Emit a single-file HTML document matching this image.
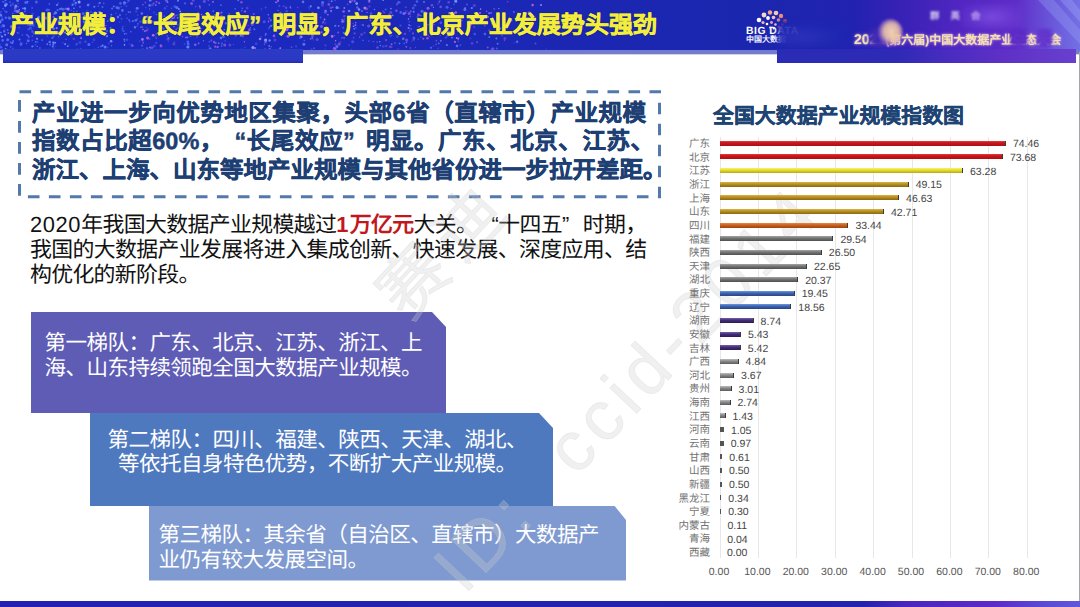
<!DOCTYPE html>
<html lang="zh-CN">
<head>
<meta charset="utf-8">
<title>产业规模</title>
<style>
html,body{margin:0;padding:0;}
body{text-rendering:geometricPrecision;width:1080px;height:607px;overflow:hidden;background:#fff;font-family:"Liberation Sans",sans-serif;position:relative;}
.abs{position:absolute;}
#band{left:0;top:0;width:1080px;height:50px;background:linear-gradient(90deg,#1a2ac2 0%,#1b29bd 30%,#1b27b2 55%,#1b26ae 70%,#2222b0 79%,#3a22b6 84%,#5226c2 89%,#5e2cc8 94%,#6a58da 97.5%,#7470e4 100%);}
#bandedge{left:0;top:50px;width:1080px;height:5px;background:linear-gradient(180deg,#6f7ad8 0%,#757dc8 70%,#ffffff 100%);}
#lblock{left:3px;top:49px;width:300px;height:13.5px;background:linear-gradient(180deg,#2a3cc2 0%,#2b38c6 80%,#2228b0 100%);}
#rblock{left:777px;top:49px;width:299px;height:13.5px;background:linear-gradient(90deg,#2a2cb6 0%,#2e2ab6 40%,#4a2cc0 58%,#5e30c6 75%,#6840ce 100%);}
#botbar{left:0;top:601px;width:1080px;height:6px;background:linear-gradient(90deg,#2420b4 0%,#2622b0 80%,#4a26c0 84%,#5c2aca 92%,#5a4cd8 97%,#5e58dc 100%);}
#redge{left:1078.5px;top:52px;width:1.5px;height:549px;background:#a4a4ac;}
#title{left:10px;top:9px;height:34px;line-height:34px;font-size:24px;font-weight:bold;color:#f3ee3a;-webkit-text-stroke:0.5px #f3ee3a;text-shadow:0 0 2px rgba(20,20,80,0.7);white-space:nowrap;letter-spacing:0;width:647px;text-align:justify;text-align-last:justify;}
#dash{left:19px;top:90px;width:640px;height:106px;box-sizing:border-box;}
.dl{left:32px;width:613px;height:28px;line-height:28px;font-size:23.5px;font-weight:bold;color:#1d3f73;-webkit-text-stroke:0.45px #1d3f73;white-space:nowrap;text-align:justify;text-align-last:justify;}
.pt{left:30px;height:23px;line-height:23px;font-size:21.9px;letter-spacing:-0.7px;color:#111;white-space:nowrap;text-align:justify;text-align-last:justify;}
.pt b{color:#c0181c;}
.tier{color:#fff;font-size:21.5px;letter-spacing:-0.6px;line-height:24.5px;height:24.5px;white-space:nowrap;text-align:justify;text-align-last:justify;}
.ql,.qr{display:inline-block;width:0.95em;}
.ql{text-align:right;text-align-last:right;}
.qr{text-align:left;text-align-last:left;}
.gl{position:absolute;top:137px;width:1px;height:421px;background:#e7e7e7;}
.ax{position:absolute;top:565px;margin-left:-1px;width:50px;text-align:center;font-size:10.5px;line-height:14px;color:#555;}
.pl{position:absolute;left:640px;width:70px;text-align:right;font-size:10.5px;line-height:14px;color:#727272;white-space:nowrap;}
.vl{position:absolute;font-size:10.5px;line-height:14px;color:#444;white-space:nowrap;}
.bar{position:absolute;left:720.0px;height:5px;border-right:1.5px solid #3a3a3a;box-sizing:border-box;}
.red{background:linear-gradient(180deg,#e24040 0%,#c8181c 35%,#ae0e12 100%);}
.yel{background:linear-gradient(180deg,#f6f268 0%,#e8e030 40%,#b4aa16 100%);}
.gold{background:linear-gradient(180deg,#dab444 0%,#b68e24 45%,#8a6812 100%);}
.org{background:linear-gradient(180deg,#e48848 0%,#c8601e 45%,#9c4410 100%);}
.gry{background:linear-gradient(180deg,#a4a4a4 0%,#747474 45%,#4e4e4e 100%);}
.blu{background:linear-gradient(180deg,#6e98e4 0%,#3c62ae 45%,#284684 100%);}
.pur{background:linear-gradient(180deg,#7460a8 0%,#432c76 45%,#2c1c54 100%);}
.lgr{background:linear-gradient(180deg,#bcbcbc 0%,#888888 45%,#5c5c5c 100%);}
.dk{background:#555;border-right:none;}
#ctitle{left:713px;top:103px;height:28px;line-height:28px;font-size:20.9px;font-weight:bold;color:#1e4474;-webkit-text-stroke:0.35px #1e4474;white-space:nowrap;width:251px;text-align:justify;text-align-last:justify;}
.wm{position:absolute;color:rgba(205,205,205,0.30);white-space:nowrap;transform-origin:0 50%;transform:rotate(-46.6deg);font-size:70px;letter-spacing:6.5px;word-spacing:28px;line-height:70px;height:70px;-webkit-text-stroke:0.8px rgba(205,205,205,0.28);}
</style>
</head>
<body>
<div id="band" class="abs"></div>
<div id="bandedge" class="abs"></div>
<svg class="abs" style="left:0;top:0" width="640" height="50" viewBox="0 0 640 50"><circle cx="136.8" cy="8.4" r="1.3" fill="#9a78ff" opacity="0.45"/><circle cx="159.2" cy="3.2" r="1.1" fill="#8a5cf0" opacity="0.85"/><circle cx="188.3" cy="13.5" r="1.1" fill="#9a78ff" opacity="0.45"/><circle cx="17.3" cy="32.8" r="0.7" fill="#4a6cff" opacity="1.00"/><circle cx="38.6" cy="17.3" r="1.5" fill="#4a6cff" opacity="1.00"/><circle cx="278.1" cy="10.5" r="0.7" fill="#8a5cf0" opacity="1.00"/><circle cx="16.5" cy="11.5" r="1.3" fill="#3f5cf0" opacity="0.85"/><circle cx="286.8" cy="25.4" r="0.9" fill="#a860e8" opacity="0.60"/><circle cx="24.5" cy="16.8" r="1.0" fill="#86a0ff" opacity="0.85"/><circle cx="118.1" cy="54.9" r="0.7" fill="#5f80ff" opacity="0.35"/><circle cx="53.1" cy="27.4" r="0.7" fill="#4a6cff" opacity="1.00"/><circle cx="279.2" cy="49.0" r="0.9" fill="#7a50e8" opacity="0.50"/><circle cx="233.5" cy="44.6" r="0.7" fill="#3f5cf0" opacity="0.85"/><circle cx="356.7" cy="3.6" r="1.3" fill="#86a0ff" opacity="1.00"/><circle cx="170.3" cy="37.4" r="0.7" fill="#3f5cf0" opacity="0.60"/><circle cx="302.5" cy="27.6" r="0.8" fill="#5f80ff" opacity="0.60"/><circle cx="177.0" cy="51.3" r="1.0" fill="#c070e0" opacity="0.42"/><circle cx="264.9" cy="49.5" r="1.5" fill="#9a78ff" opacity="0.35"/><circle cx="362.7" cy="55.2" r="1.3" fill="#5f80ff" opacity="0.30"/><circle cx="24.9" cy="8.5" r="1.3" fill="#7090ff" opacity="1.00"/><circle cx="66.7" cy="15.8" r="0.8" fill="#3f5cf0" opacity="1.00"/><circle cx="275.1" cy="53.4" r="1.3" fill="#5a78f8" opacity="0.23"/><circle cx="210.2" cy="48.8" r="1.5" fill="#5a78f8" opacity="0.85"/><circle cx="177.1" cy="22.1" r="1.0" fill="#4a6cff" opacity="0.60"/><circle cx="19.2" cy="11.7" r="0.8" fill="#9a78ff" opacity="0.45"/><circle cx="32.4" cy="31.7" r="1.1" fill="#7a50e8" opacity="1.00"/><circle cx="5.7" cy="49.0" r="1.1" fill="#86a0ff" opacity="0.70"/><circle cx="37.6" cy="27.3" r="1.0" fill="#3f5cf0" opacity="0.45"/><circle cx="49.7" cy="42.0" r="1.3" fill="#86a0ff" opacity="0.60"/><circle cx="245.1" cy="11.5" r="1.1" fill="#b458d8" opacity="1.00"/><circle cx="322.4" cy="5.1" r="1.5" fill="#7a50e8" opacity="0.60"/><circle cx="153.8" cy="12.5" r="1.1" fill="#3f5cf0" opacity="0.60"/><circle cx="303.9" cy="44.2" r="1.5" fill="#5f80ff" opacity="0.85"/><circle cx="384.3" cy="12.7" r="1.1" fill="#b458d8" opacity="0.45"/><circle cx="71.9" cy="33.9" r="0.9" fill="#86a0ff" opacity="0.70"/><circle cx="87.7" cy="11.0" r="0.8" fill="#5a78f8" opacity="0.45"/><circle cx="223.4" cy="36.6" r="1.5" fill="#86a0ff" opacity="0.45"/><circle cx="497.6" cy="43.8" r="1.0" fill="#7090ff" opacity="0.70"/><circle cx="26.4" cy="53.0" r="1.3" fill="#7090ff" opacity="0.23"/><circle cx="374.5" cy="9.5" r="0.8" fill="#9a78ff" opacity="0.85"/><circle cx="428.0" cy="8.2" r="1.5" fill="#c070e0" opacity="0.70"/><circle cx="54.9" cy="30.7" r="0.7" fill="#b458d8" opacity="0.45"/><circle cx="251.2" cy="52.3" r="1.0" fill="#5f80ff" opacity="0.30"/><circle cx="6.4" cy="11.9" r="1.1" fill="#5a78f8" opacity="0.70"/><circle cx="103.7" cy="23.5" r="0.8" fill="#b458d8" opacity="0.70"/><circle cx="489.3" cy="37.1" r="1.1" fill="#9a78ff" opacity="0.60"/><circle cx="254.3" cy="29.3" r="0.7" fill="#5f80ff" opacity="1.00"/><circle cx="0.6" cy="44.8" r="0.8" fill="#5a78f8" opacity="0.45"/><circle cx="269.2" cy="18.3" r="1.1" fill="#c070e0" opacity="0.45"/><circle cx="10.7" cy="5.5" r="1.0" fill="#4a6cff" opacity="0.85"/><circle cx="137.7" cy="54.5" r="1.1" fill="#86a0ff" opacity="0.35"/><circle cx="207.7" cy="29.9" r="1.0" fill="#a860e8" opacity="1.00"/><circle cx="271.0" cy="52.8" r="1.5" fill="#c070e0" opacity="0.23"/><circle cx="173.9" cy="17.7" r="1.3" fill="#8a5cf0" opacity="0.60"/><circle cx="339.1" cy="43.9" r="1.5" fill="#b458d8" opacity="0.70"/><circle cx="49.2" cy="49.4" r="1.0" fill="#4a6cff" opacity="0.42"/><circle cx="480.6" cy="9.1" r="0.8" fill="#c070e0" opacity="1.00"/><circle cx="180.3" cy="23.6" r="0.9" fill="#b458d8" opacity="0.70"/><circle cx="4.1" cy="31.0" r="1.0" fill="#7090ff" opacity="0.70"/><circle cx="245.8" cy="16.5" r="0.7" fill="#a860e8" opacity="0.45"/><circle cx="25.3" cy="15.2" r="1.5" fill="#5f80ff" opacity="0.85"/><circle cx="456.8" cy="37.9" r="1.0" fill="#9a78ff" opacity="1.00"/><circle cx="232.3" cy="18.3" r="0.9" fill="#b458d8" opacity="0.60"/><circle cx="192.3" cy="4.1" r="0.7" fill="#3f5cf0" opacity="0.45"/><circle cx="300.8" cy="12.5" r="0.9" fill="#7090ff" opacity="0.45"/><circle cx="144.9" cy="31.0" r="0.9" fill="#4a6cff" opacity="1.00"/><circle cx="364.7" cy="52.5" r="0.8" fill="#a860e8" opacity="0.30"/><circle cx="77.7" cy="25.0" r="1.3" fill="#3f5cf0" opacity="0.45"/><circle cx="238.8" cy="54.8" r="1.1" fill="#c070e0" opacity="0.23"/><circle cx="332.1" cy="36.4" r="1.3" fill="#c070e0" opacity="1.00"/><circle cx="128.4" cy="12.1" r="0.8" fill="#86a0ff" opacity="0.60"/><circle cx="180.8" cy="19.5" r="0.7" fill="#4a6cff" opacity="0.45"/><circle cx="311.5" cy="49.3" r="1.0" fill="#8a5cf0" opacity="0.42"/><circle cx="95.2" cy="16.4" r="1.0" fill="#3f5cf0" opacity="0.85"/><circle cx="0.5" cy="20.4" r="0.9" fill="#5a78f8" opacity="0.70"/><circle cx="96.3" cy="54.1" r="0.9" fill="#5f80ff" opacity="0.23"/><circle cx="142.9" cy="4.7" r="0.9" fill="#a860e8" opacity="0.60"/><circle cx="238.2" cy="0.3" r="0.9" fill="#5f80ff" opacity="0.85"/><circle cx="287.6" cy="22.1" r="0.9" fill="#a860e8" opacity="0.45"/><circle cx="286.9" cy="29.6" r="1.5" fill="#b458d8" opacity="1.00"/><circle cx="172.3" cy="18.3" r="1.0" fill="#b458d8" opacity="1.00"/><circle cx="322.6" cy="2.5" r="1.5" fill="#5a78f8" opacity="0.85"/><circle cx="380.4" cy="45.5" r="0.8" fill="#5a78f8" opacity="1.00"/><circle cx="446.9" cy="45.1" r="1.1" fill="#86a0ff" opacity="0.60"/><circle cx="25.7" cy="2.3" r="1.3" fill="#4a6cff" opacity="0.85"/><circle cx="447.5" cy="31.3" r="1.3" fill="#a860e8" opacity="0.85"/><circle cx="105.9" cy="25.6" r="0.7" fill="#5a78f8" opacity="1.00"/><circle cx="28.4" cy="29.5" r="1.3" fill="#3f5cf0" opacity="0.45"/><circle cx="454.5" cy="13.1" r="0.8" fill="#7090ff" opacity="0.85"/><circle cx="454.0" cy="4.3" r="0.9" fill="#5a78f8" opacity="0.60"/><circle cx="22.9" cy="8.3" r="0.9" fill="#86a0ff" opacity="0.70"/><circle cx="308.8" cy="7.5" r="1.0" fill="#7a50e8" opacity="0.45"/><circle cx="353.6" cy="37.8" r="0.9" fill="#3f5cf0" opacity="0.85"/><circle cx="215.6" cy="43.0" r="1.1" fill="#8a5cf0" opacity="0.85"/><circle cx="3.6" cy="25.7" r="1.5" fill="#7090ff" opacity="0.70"/><circle cx="170.8" cy="51.3" r="0.8" fill="#8a5cf0" opacity="0.30"/><circle cx="389.2" cy="14.7" r="0.9" fill="#b458d8" opacity="1.00"/><circle cx="113.8" cy="6.3" r="0.9" fill="#7090ff" opacity="0.85"/><circle cx="5.5" cy="0.2" r="1.0" fill="#7090ff" opacity="0.70"/><circle cx="376.0" cy="23.3" r="1.0" fill="#7a50e8" opacity="0.45"/><circle cx="137.2" cy="18.9" r="1.0" fill="#5f80ff" opacity="0.45"/><circle cx="174.2" cy="55.9" r="1.1" fill="#c070e0" opacity="0.35"/><circle cx="334.4" cy="35.6" r="0.8" fill="#7a50e8" opacity="0.85"/><circle cx="241.9" cy="10.6" r="0.9" fill="#7090ff" opacity="0.45"/><circle cx="431.6" cy="35.3" r="1.1" fill="#b458d8" opacity="0.45"/><circle cx="13.1" cy="41.0" r="1.0" fill="#5f80ff" opacity="0.70"/><circle cx="227.0" cy="51.1" r="1.1" fill="#c070e0" opacity="0.42"/><circle cx="147.4" cy="16.7" r="1.3" fill="#86a0ff" opacity="0.70"/><circle cx="181.6" cy="13.4" r="1.0" fill="#c070e0" opacity="0.45"/><circle cx="59.9" cy="9.1" r="0.8" fill="#7090ff" opacity="1.00"/><circle cx="84.4" cy="50.8" r="1.5" fill="#5f80ff" opacity="0.50"/><circle cx="71.4" cy="5.1" r="0.9" fill="#3f5cf0" opacity="0.60"/><circle cx="160.7" cy="45.3" r="0.8" fill="#86a0ff" opacity="0.85"/><circle cx="168.6" cy="41.8" r="0.8" fill="#7a50e8" opacity="0.45"/><circle cx="234.4" cy="32.2" r="0.9" fill="#9a78ff" opacity="1.00"/><circle cx="314.1" cy="48.3" r="0.8" fill="#a860e8" opacity="0.85"/><circle cx="178.0" cy="25.0" r="0.9" fill="#4a6cff" opacity="0.60"/><circle cx="7.7" cy="39.7" r="1.5" fill="#5a78f8" opacity="0.85"/><circle cx="0.0" cy="21.9" r="1.5" fill="#7090ff" opacity="0.85"/><circle cx="98.2" cy="6.1" r="0.8" fill="#86a0ff" opacity="0.45"/><circle cx="400.5" cy="25.6" r="1.1" fill="#4a6cff" opacity="0.60"/><circle cx="90.4" cy="51.5" r="1.3" fill="#5f80ff" opacity="0.35"/><circle cx="252.2" cy="24.5" r="1.5" fill="#8a5cf0" opacity="0.70"/><circle cx="249.9" cy="32.6" r="1.0" fill="#9a78ff" opacity="0.45"/><circle cx="1.9" cy="16.9" r="1.0" fill="#3f5cf0" opacity="0.60"/><circle cx="221.0" cy="13.1" r="0.8" fill="#c070e0" opacity="0.70"/><circle cx="15.0" cy="10.9" r="1.3" fill="#4a6cff" opacity="0.70"/><circle cx="88.2" cy="23.8" r="0.9" fill="#4a6cff" opacity="0.70"/><circle cx="370.3" cy="20.3" r="1.0" fill="#7a50e8" opacity="1.00"/><circle cx="19.2" cy="27.8" r="0.8" fill="#5f80ff" opacity="0.60"/><circle cx="215.1" cy="14.8" r="0.9" fill="#9a78ff" opacity="0.85"/><circle cx="302.0" cy="50.2" r="1.0" fill="#b458d8" opacity="0.23"/><circle cx="81.0" cy="54.6" r="0.8" fill="#86a0ff" opacity="0.23"/><circle cx="67.5" cy="25.2" r="1.3" fill="#86a0ff" opacity="0.45"/><circle cx="68.2" cy="52.4" r="1.3" fill="#3f5cf0" opacity="0.42"/><circle cx="449.8" cy="55.2" r="0.7" fill="#7a50e8" opacity="0.23"/><circle cx="151.5" cy="53.5" r="0.7" fill="#a860e8" opacity="0.42"/><circle cx="154.3" cy="46.0" r="1.5" fill="#4a6cff" opacity="0.45"/><circle cx="361.9" cy="11.0" r="1.1" fill="#5f80ff" opacity="0.70"/><circle cx="158.5" cy="50.2" r="0.7" fill="#5f80ff" opacity="0.42"/><circle cx="10.2" cy="2.0" r="0.7" fill="#4a6cff" opacity="0.70"/><circle cx="72.5" cy="3.5" r="1.1" fill="#3f5cf0" opacity="0.70"/><circle cx="369.2" cy="17.7" r="0.9" fill="#b458d8" opacity="1.00"/><circle cx="502.1" cy="35.5" r="0.7" fill="#4a6cff" opacity="0.85"/><circle cx="368.6" cy="26.1" r="1.5" fill="#7a50e8" opacity="0.85"/><circle cx="433.5" cy="7.4" r="0.7" fill="#86a0ff" opacity="0.70"/><circle cx="438.8" cy="43.3" r="0.9" fill="#7090ff" opacity="0.70"/><circle cx="413.0" cy="33.4" r="1.1" fill="#a860e8" opacity="0.60"/><circle cx="182.5" cy="36.4" r="1.0" fill="#7a50e8" opacity="0.60"/><circle cx="546.2" cy="49.5" r="0.9" fill="#5f80ff" opacity="0.23"/><circle cx="189.9" cy="55.4" r="1.0" fill="#a860e8" opacity="0.42"/><circle cx="212.7" cy="49.9" r="0.8" fill="#86a0ff" opacity="0.23"/><circle cx="410.3" cy="16.5" r="0.9" fill="#7a50e8" opacity="0.70"/><circle cx="383.1" cy="11.2" r="0.8" fill="#a860e8" opacity="0.60"/><circle cx="114.8" cy="50.8" r="0.8" fill="#7090ff" opacity="0.35"/><circle cx="429.3" cy="36.6" r="0.7" fill="#c070e0" opacity="0.60"/><circle cx="121.1" cy="6.7" r="0.8" fill="#5a78f8" opacity="0.60"/><circle cx="511.6" cy="20.8" r="1.0" fill="#86a0ff" opacity="0.45"/><circle cx="33.8" cy="33.4" r="1.1" fill="#4a6cff" opacity="0.70"/><circle cx="145.4" cy="2.5" r="0.9" fill="#b458d8" opacity="0.60"/><circle cx="433.5" cy="45.9" r="0.9" fill="#7a50e8" opacity="0.45"/><circle cx="76.5" cy="44.5" r="1.1" fill="#7090ff" opacity="0.45"/><circle cx="420.9" cy="37.2" r="0.8" fill="#4a6cff" opacity="0.60"/><circle cx="176.9" cy="15.2" r="0.9" fill="#7090ff" opacity="0.45"/><circle cx="130.8" cy="31.7" r="0.9" fill="#4a6cff" opacity="0.70"/><circle cx="323.4" cy="21.9" r="1.0" fill="#8a5cf0" opacity="0.85"/><circle cx="492.0" cy="23.7" r="1.0" fill="#7a50e8" opacity="0.85"/><circle cx="405.9" cy="7.3" r="0.7" fill="#b458d8" opacity="0.85"/><circle cx="27.2" cy="34.8" r="0.9" fill="#5f80ff" opacity="0.60"/><circle cx="149.6" cy="9.1" r="0.8" fill="#4a6cff" opacity="0.85"/><circle cx="229.9" cy="45.1" r="1.5" fill="#a860e8" opacity="0.45"/><circle cx="508.8" cy="21.7" r="1.1" fill="#5f80ff" opacity="0.60"/><circle cx="308.7" cy="34.4" r="0.8" fill="#5f80ff" opacity="1.00"/><circle cx="83.5" cy="22.4" r="1.1" fill="#3f5cf0" opacity="0.45"/><circle cx="52.0" cy="54.4" r="1.5" fill="#4a6cff" opacity="0.50"/><circle cx="452.0" cy="37.6" r="0.9" fill="#9a78ff" opacity="0.85"/><circle cx="265.3" cy="35.1" r="0.9" fill="#3f5cf0" opacity="1.00"/><circle cx="98.6" cy="21.8" r="0.9" fill="#7090ff" opacity="0.60"/><circle cx="5.1" cy="34.7" r="1.0" fill="#7090ff" opacity="1.00"/><circle cx="410.5" cy="25.7" r="0.8" fill="#7090ff" opacity="0.45"/><circle cx="19.1" cy="20.1" r="0.9" fill="#c070e0" opacity="1.00"/><circle cx="241.4" cy="2.3" r="1.3" fill="#b458d8" opacity="0.70"/><circle cx="408.9" cy="28.6" r="0.7" fill="#7090ff" opacity="0.60"/><circle cx="5.8" cy="3.7" r="1.1" fill="#4a6cff" opacity="0.60"/><circle cx="44.4" cy="49.6" r="0.9" fill="#5f80ff" opacity="0.30"/><circle cx="18.6" cy="19.7" r="1.5" fill="#3f5cf0" opacity="1.00"/><circle cx="111.5" cy="45.7" r="0.8" fill="#7090ff" opacity="0.60"/><circle cx="290.7" cy="34.5" r="0.8" fill="#8a5cf0" opacity="0.60"/><circle cx="66.6" cy="9.0" r="0.9" fill="#7090ff" opacity="0.60"/><circle cx="418.5" cy="14.8" r="1.5" fill="#b458d8" opacity="0.70"/><circle cx="351.4" cy="50.2" r="0.9" fill="#86a0ff" opacity="0.42"/><circle cx="383.0" cy="20.8" r="1.0" fill="#5a78f8" opacity="0.60"/><circle cx="156.3" cy="42.8" r="1.0" fill="#9a78ff" opacity="0.45"/><circle cx="122.5" cy="28.9" r="0.9" fill="#5a78f8" opacity="0.70"/><circle cx="379.8" cy="41.8" r="0.8" fill="#9a78ff" opacity="0.85"/><circle cx="188.0" cy="20.4" r="0.7" fill="#a860e8" opacity="1.00"/><circle cx="328.8" cy="1.2" r="0.7" fill="#7a50e8" opacity="0.45"/><circle cx="249.1" cy="29.9" r="1.0" fill="#9a78ff" opacity="0.60"/><circle cx="76.9" cy="34.9" r="1.0" fill="#4a6cff" opacity="0.60"/><circle cx="363.3" cy="25.2" r="0.7" fill="#86a0ff" opacity="0.70"/><circle cx="179.2" cy="14.8" r="0.7" fill="#9a78ff" opacity="0.70"/><circle cx="292.5" cy="32.4" r="1.1" fill="#86a0ff" opacity="0.85"/><circle cx="98.3" cy="50.6" r="0.7" fill="#8a5cf0" opacity="0.42"/><circle cx="68.2" cy="8.9" r="1.5" fill="#9a78ff" opacity="1.00"/><circle cx="331.1" cy="11.0" r="1.0" fill="#9a78ff" opacity="1.00"/><circle cx="325.3" cy="23.3" r="1.1" fill="#7a50e8" opacity="0.45"/><circle cx="124.5" cy="2.7" r="1.3" fill="#86a0ff" opacity="1.00"/><circle cx="1.0" cy="47.3" r="1.3" fill="#4a6cff" opacity="0.85"/><circle cx="63.6" cy="55.8" r="0.9" fill="#4a6cff" opacity="0.23"/><circle cx="143.0" cy="42.0" r="1.3" fill="#3f5cf0" opacity="0.45"/><circle cx="107.0" cy="31.0" r="1.0" fill="#5a78f8" opacity="0.70"/><circle cx="122.1" cy="52.0" r="0.8" fill="#9a78ff" opacity="0.23"/><circle cx="61.0" cy="50.7" r="1.5" fill="#5f80ff" opacity="0.35"/><circle cx="71.1" cy="21.8" r="1.1" fill="#86a0ff" opacity="1.00"/><circle cx="217.6" cy="47.0" r="1.3" fill="#8a5cf0" opacity="0.85"/><circle cx="529.2" cy="13.1" r="1.5" fill="#9a78ff" opacity="1.00"/><circle cx="23.0" cy="51.0" r="0.8" fill="#8a5cf0" opacity="0.23"/><circle cx="309.3" cy="9.1" r="0.8" fill="#4a6cff" opacity="0.45"/><circle cx="47.3" cy="36.0" r="0.7" fill="#86a0ff" opacity="0.45"/><circle cx="18.7" cy="33.1" r="0.9" fill="#5a78f8" opacity="0.45"/><circle cx="477.1" cy="42.3" r="1.0" fill="#a860e8" opacity="0.60"/><circle cx="36.3" cy="1.9" r="1.5" fill="#86a0ff" opacity="0.45"/><circle cx="440.3" cy="35.4" r="0.7" fill="#b458d8" opacity="0.60"/><circle cx="121.5" cy="18.8" r="0.9" fill="#7a50e8" opacity="0.70"/><circle cx="12.7" cy="42.6" r="0.9" fill="#5a78f8" opacity="1.00"/><circle cx="221.5" cy="16.1" r="1.3" fill="#c070e0" opacity="0.45"/><circle cx="198.7" cy="43.3" r="0.9" fill="#8a5cf0" opacity="1.00"/><circle cx="275.0" cy="40.0" r="1.5" fill="#7a50e8" opacity="0.60"/><circle cx="198.4" cy="29.3" r="0.9" fill="#4a6cff" opacity="0.45"/><circle cx="149.6" cy="5.4" r="1.3" fill="#5f80ff" opacity="0.85"/><circle cx="291.1" cy="53.6" r="1.1" fill="#a860e8" opacity="0.35"/><circle cx="433.8" cy="52.5" r="0.8" fill="#b458d8" opacity="0.23"/><circle cx="229.8" cy="55.5" r="1.1" fill="#86a0ff" opacity="0.35"/><circle cx="153.8" cy="22.5" r="1.0" fill="#86a0ff" opacity="0.45"/><circle cx="190.5" cy="36.2" r="0.9" fill="#7a50e8" opacity="0.85"/><circle cx="480.0" cy="13.1" r="1.1" fill="#b458d8" opacity="1.00"/><circle cx="324.5" cy="19.5" r="0.9" fill="#c070e0" opacity="1.00"/><circle cx="385.6" cy="9.5" r="1.0" fill="#3f5cf0" opacity="1.00"/><circle cx="89.7" cy="18.7" r="1.3" fill="#5f80ff" opacity="1.00"/><circle cx="71.0" cy="16.9" r="1.3" fill="#5a78f8" opacity="0.60"/><circle cx="373.6" cy="54.6" r="1.3" fill="#9a78ff" opacity="0.35"/><circle cx="57.1" cy="18.4" r="0.8" fill="#86a0ff" opacity="0.45"/><circle cx="58.7" cy="36.8" r="0.8" fill="#5f80ff" opacity="0.70"/><circle cx="380.0" cy="24.4" r="0.8" fill="#8a5cf0" opacity="0.70"/><circle cx="77.9" cy="21.7" r="0.7" fill="#c070e0" opacity="0.60"/><circle cx="235.7" cy="35.4" r="1.0" fill="#7a50e8" opacity="1.00"/><circle cx="383.2" cy="0.3" r="0.8" fill="#7090ff" opacity="1.00"/><circle cx="288.0" cy="36.2" r="1.5" fill="#b458d8" opacity="1.00"/><circle cx="458.7" cy="38.1" r="1.0" fill="#7a50e8" opacity="0.45"/><circle cx="366.7" cy="8.8" r="1.5" fill="#c070e0" opacity="0.45"/><circle cx="309.1" cy="22.9" r="1.3" fill="#5f80ff" opacity="0.70"/><circle cx="409.3" cy="21.8" r="1.0" fill="#4a6cff" opacity="0.45"/><circle cx="99.6" cy="12.2" r="1.3" fill="#5f80ff" opacity="1.00"/><circle cx="149.8" cy="47.4" r="1.0" fill="#b458d8" opacity="0.85"/><circle cx="242.6" cy="35.8" r="1.5" fill="#7a50e8" opacity="0.85"/><circle cx="385.7" cy="25.6" r="1.3" fill="#9a78ff" opacity="0.45"/><circle cx="377.3" cy="34.4" r="1.3" fill="#7a50e8" opacity="0.85"/><circle cx="178.0" cy="0.7" r="1.0" fill="#86a0ff" opacity="0.70"/><circle cx="283.6" cy="6.1" r="0.9" fill="#5a78f8" opacity="0.60"/><circle cx="58.7" cy="52.0" r="0.7" fill="#86a0ff" opacity="0.30"/><circle cx="217.4" cy="31.5" r="0.8" fill="#5f80ff" opacity="0.70"/><circle cx="336.9" cy="46.5" r="1.5" fill="#7090ff" opacity="0.70"/><circle cx="397.3" cy="36.4" r="1.5" fill="#3f5cf0" opacity="0.60"/><circle cx="107.7" cy="21.1" r="0.9" fill="#86a0ff" opacity="0.60"/><circle cx="224.7" cy="45.1" r="1.5" fill="#a860e8" opacity="0.70"/><circle cx="134.9" cy="27.2" r="1.1" fill="#86a0ff" opacity="0.70"/><circle cx="53.5" cy="17.0" r="1.0" fill="#9a78ff" opacity="0.70"/><circle cx="413.2" cy="7.9" r="1.5" fill="#9a78ff" opacity="0.45"/><circle cx="331.4" cy="11.7" r="0.7" fill="#3f5cf0" opacity="1.00"/><circle cx="32.1" cy="8.0" r="0.8" fill="#7090ff" opacity="0.70"/><circle cx="413.7" cy="11.7" r="1.0" fill="#5f80ff" opacity="1.00"/><circle cx="484.9" cy="34.1" r="1.3" fill="#5a78f8" opacity="0.70"/><circle cx="73.7" cy="38.8" r="1.1" fill="#c070e0" opacity="0.45"/><circle cx="268.3" cy="14.8" r="0.8" fill="#7090ff" opacity="0.85"/><circle cx="269.6" cy="27.1" r="0.8" fill="#5f80ff" opacity="0.85"/><circle cx="58.7" cy="33.6" r="1.3" fill="#7a50e8" opacity="0.85"/><circle cx="355.9" cy="27.9" r="0.9" fill="#3f5cf0" opacity="0.85"/><circle cx="188.7" cy="53.8" r="0.7" fill="#7a50e8" opacity="0.23"/><circle cx="4.4" cy="2.6" r="1.3" fill="#3f5cf0" opacity="0.45"/><circle cx="241.7" cy="27.1" r="0.8" fill="#b458d8" opacity="0.85"/><circle cx="311.4" cy="19.0" r="1.5" fill="#3f5cf0" opacity="0.85"/><circle cx="409.5" cy="31.0" r="0.8" fill="#7a50e8" opacity="0.85"/><circle cx="99.8" cy="3.0" r="0.9" fill="#7090ff" opacity="0.85"/><circle cx="142.0" cy="55.1" r="1.5" fill="#a860e8" opacity="0.42"/><circle cx="418.4" cy="18.5" r="0.9" fill="#5f80ff" opacity="1.00"/><circle cx="541.0" cy="4.9" r="1.0" fill="#7090ff" opacity="1.00"/><circle cx="279.8" cy="22.3" r="0.7" fill="#a860e8" opacity="0.85"/><circle cx="301.1" cy="36.8" r="1.5" fill="#9a78ff" opacity="1.00"/><circle cx="164.9" cy="8.2" r="1.3" fill="#5a78f8" opacity="0.45"/><circle cx="80.8" cy="37.4" r="1.0" fill="#5f80ff" opacity="0.45"/><circle cx="335.4" cy="48.7" r="1.0" fill="#86a0ff" opacity="0.45"/><circle cx="161.0" cy="46.1" r="1.5" fill="#b458d8" opacity="0.70"/><circle cx="4.3" cy="31.7" r="1.1" fill="#4a6cff" opacity="0.85"/><circle cx="275.8" cy="2.2" r="0.7" fill="#7090ff" opacity="1.00"/><circle cx="355.8" cy="22.7" r="0.7" fill="#c070e0" opacity="1.00"/><circle cx="290.8" cy="52.5" r="0.8" fill="#c070e0" opacity="0.50"/><circle cx="32.3" cy="36.1" r="0.8" fill="#86a0ff" opacity="0.45"/><circle cx="193.3" cy="0.5" r="1.3" fill="#8a5cf0" opacity="0.60"/><circle cx="371.0" cy="13.6" r="1.3" fill="#4a6cff" opacity="0.70"/><circle cx="406.6" cy="40.0" r="1.5" fill="#8a5cf0" opacity="0.70"/><circle cx="313.5" cy="39.7" r="1.0" fill="#3f5cf0" opacity="0.45"/><circle cx="369.6" cy="0.6" r="0.7" fill="#86a0ff" opacity="1.00"/><circle cx="23.7" cy="17.4" r="1.3" fill="#7090ff" opacity="1.00"/><circle cx="16.6" cy="20.6" r="1.1" fill="#7090ff" opacity="0.60"/><circle cx="50.1" cy="44.7" r="0.9" fill="#5f80ff" opacity="0.85"/><circle cx="222.0" cy="43.6" r="1.0" fill="#5a78f8" opacity="0.70"/><circle cx="120.4" cy="3.4" r="1.3" fill="#5a78f8" opacity="0.70"/><circle cx="52.8" cy="46.6" r="1.1" fill="#5f80ff" opacity="0.85"/><circle cx="171.1" cy="21.1" r="1.5" fill="#7090ff" opacity="0.70"/><circle cx="351.2" cy="18.0" r="0.9" fill="#9a78ff" opacity="0.45"/><circle cx="118.4" cy="7.9" r="1.5" fill="#5f80ff" opacity="0.70"/><circle cx="408.6" cy="28.0" r="1.1" fill="#9a78ff" opacity="0.85"/><circle cx="422.0" cy="11.2" r="1.5" fill="#5f80ff" opacity="0.70"/><circle cx="300.0" cy="37.9" r="1.0" fill="#3f5cf0" opacity="1.00"/><circle cx="391.6" cy="44.3" r="1.0" fill="#9a78ff" opacity="0.70"/><circle cx="405.3" cy="13.0" r="1.1" fill="#7a50e8" opacity="1.00"/><circle cx="135.3" cy="28.3" r="0.8" fill="#5f80ff" opacity="0.45"/><circle cx="66.0" cy="39.3" r="0.9" fill="#3f5cf0" opacity="0.85"/><circle cx="410.3" cy="48.0" r="0.8" fill="#c070e0" opacity="0.70"/><circle cx="468.1" cy="20.8" r="0.7" fill="#9a78ff" opacity="0.45"/><circle cx="148.0" cy="29.1" r="0.7" fill="#a860e8" opacity="1.00"/><circle cx="227.4" cy="31.8" r="0.9" fill="#3f5cf0" opacity="0.85"/><circle cx="30.4" cy="25.0" r="1.1" fill="#5f80ff" opacity="0.70"/><circle cx="452.8" cy="19.0" r="1.0" fill="#8a5cf0" opacity="0.45"/><circle cx="269.7" cy="48.8" r="1.0" fill="#8a5cf0" opacity="1.00"/><circle cx="320.5" cy="51.6" r="1.3" fill="#3f5cf0" opacity="0.35"/><circle cx="274.0" cy="35.9" r="1.3" fill="#a860e8" opacity="0.85"/><circle cx="456.8" cy="20.8" r="1.3" fill="#8a5cf0" opacity="0.70"/><circle cx="6.4" cy="51.5" r="0.9" fill="#86a0ff" opacity="0.42"/><circle cx="15.2" cy="8.1" r="1.5" fill="#a860e8" opacity="0.70"/><circle cx="289.4" cy="24.7" r="1.3" fill="#7a50e8" opacity="0.70"/><circle cx="102.5" cy="7.0" r="1.0" fill="#7090ff" opacity="0.60"/><circle cx="428.7" cy="51.2" r="0.7" fill="#a860e8" opacity="0.23"/><circle cx="55.3" cy="46.6" r="0.7" fill="#3f5cf0" opacity="0.60"/><circle cx="409.4" cy="53.6" r="1.0" fill="#86a0ff" opacity="0.23"/><circle cx="207.7" cy="19.0" r="1.5" fill="#8a5cf0" opacity="0.70"/><circle cx="49.1" cy="12.4" r="0.7" fill="#7090ff" opacity="1.00"/><circle cx="188.4" cy="13.8" r="0.7" fill="#7a50e8" opacity="0.70"/><circle cx="426.4" cy="14.6" r="0.7" fill="#c070e0" opacity="0.45"/><circle cx="53.7" cy="28.8" r="1.3" fill="#86a0ff" opacity="0.60"/><circle cx="271.2" cy="46.8" r="0.7" fill="#a860e8" opacity="0.70"/><circle cx="196.2" cy="14.6" r="0.8" fill="#4a6cff" opacity="0.85"/><circle cx="118.9" cy="50.2" r="0.7" fill="#3f5cf0" opacity="0.30"/><circle cx="145.9" cy="7.8" r="0.7" fill="#5a78f8" opacity="0.70"/><circle cx="68.3" cy="24.4" r="1.0" fill="#5a78f8" opacity="0.60"/><circle cx="47.1" cy="10.1" r="1.5" fill="#5f80ff" opacity="0.60"/><circle cx="296.1" cy="46.4" r="1.1" fill="#3f5cf0" opacity="0.60"/><circle cx="77.7" cy="34.3" r="1.3" fill="#5f80ff" opacity="1.00"/><circle cx="128.5" cy="0.6" r="1.3" fill="#7090ff" opacity="0.45"/><circle cx="246.4" cy="19.5" r="0.9" fill="#7090ff" opacity="0.45"/><circle cx="3.0" cy="51.0" r="1.0" fill="#86a0ff" opacity="0.35"/><circle cx="98.2" cy="31.5" r="0.9" fill="#b458d8" opacity="0.70"/><circle cx="280.3" cy="48.1" r="0.9" fill="#c070e0" opacity="1.00"/><circle cx="20.6" cy="20.0" r="0.8" fill="#3f5cf0" opacity="0.85"/><circle cx="281.2" cy="50.3" r="0.9" fill="#86a0ff" opacity="0.42"/><circle cx="204.4" cy="1.4" r="1.5" fill="#8a5cf0" opacity="0.60"/><circle cx="32.5" cy="14.0" r="1.5" fill="#4a6cff" opacity="0.45"/><circle cx="448.5" cy="35.7" r="0.8" fill="#4a6cff" opacity="0.70"/><circle cx="40.8" cy="27.6" r="1.1" fill="#4a6cff" opacity="0.45"/><circle cx="40.2" cy="49.5" r="1.1" fill="#5f80ff" opacity="0.30"/><circle cx="338.7" cy="25.9" r="1.0" fill="#8a5cf0" opacity="0.85"/><circle cx="354.6" cy="33.4" r="1.1" fill="#c070e0" opacity="0.45"/><circle cx="408.5" cy="19.0" r="0.8" fill="#86a0ff" opacity="0.85"/><circle cx="452.4" cy="31.6" r="0.9" fill="#5a78f8" opacity="0.45"/><circle cx="137.4" cy="8.2" r="1.3" fill="#5f80ff" opacity="0.85"/><circle cx="335.1" cy="0.6" r="0.7" fill="#8a5cf0" opacity="0.70"/><circle cx="196.7" cy="28.3" r="0.7" fill="#c070e0" opacity="0.85"/><circle cx="408.2" cy="52.5" r="1.3" fill="#8a5cf0" opacity="0.23"/><circle cx="467.6" cy="34.8" r="1.1" fill="#9a78ff" opacity="0.45"/><circle cx="308.9" cy="14.0" r="1.1" fill="#a860e8" opacity="0.45"/><circle cx="117.9" cy="17.1" r="1.3" fill="#4a6cff" opacity="1.00"/><circle cx="531.5" cy="51.6" r="0.7" fill="#9a78ff" opacity="0.30"/><circle cx="200.7" cy="28.7" r="0.9" fill="#5a78f8" opacity="0.70"/><circle cx="111.1" cy="41.2" r="1.3" fill="#7090ff" opacity="1.00"/><circle cx="355.3" cy="12.4" r="1.0" fill="#b458d8" opacity="0.70"/><circle cx="212.7" cy="30.7" r="1.1" fill="#7a50e8" opacity="0.45"/><circle cx="95.2" cy="12.4" r="1.1" fill="#5a78f8" opacity="0.85"/><circle cx="2.2" cy="19.7" r="1.5" fill="#3f5cf0" opacity="1.00"/><circle cx="137.7" cy="15.1" r="0.8" fill="#4a6cff" opacity="0.60"/><circle cx="265.9" cy="33.9" r="0.9" fill="#8a5cf0" opacity="1.00"/><circle cx="171.4" cy="24.6" r="1.3" fill="#5a78f8" opacity="0.60"/><circle cx="187.5" cy="37.4" r="0.8" fill="#5a78f8" opacity="1.00"/><circle cx="457.0" cy="46.0" r="1.3" fill="#7090ff" opacity="0.70"/><circle cx="413.7" cy="39.7" r="1.3" fill="#8a5cf0" opacity="0.45"/><circle cx="184.0" cy="30.8" r="0.7" fill="#9a78ff" opacity="0.60"/><circle cx="188.2" cy="43.9" r="1.5" fill="#4a6cff" opacity="0.85"/><circle cx="458.2" cy="38.8" r="0.9" fill="#c070e0" opacity="1.00"/><circle cx="268.5" cy="21.5" r="0.9" fill="#b458d8" opacity="0.85"/><circle cx="167.4" cy="16.8" r="1.1" fill="#a860e8" opacity="0.85"/><circle cx="280.7" cy="32.6" r="0.7" fill="#3f5cf0" opacity="0.70"/><circle cx="137.9" cy="54.4" r="0.7" fill="#7a50e8" opacity="0.50"/><circle cx="488.1" cy="16.8" r="0.9" fill="#c070e0" opacity="1.00"/><circle cx="440.8" cy="40.7" r="1.0" fill="#9a78ff" opacity="0.70"/><circle cx="208.2" cy="0.6" r="0.7" fill="#8a5cf0" opacity="0.85"/><circle cx="164.0" cy="22.5" r="1.1" fill="#5f80ff" opacity="0.60"/><circle cx="311.0" cy="55.8" r="0.9" fill="#86a0ff" opacity="0.23"/><circle cx="61.5" cy="17.8" r="0.7" fill="#5a78f8" opacity="0.60"/><circle cx="35.7" cy="50.1" r="1.3" fill="#5a78f8" opacity="0.42"/><circle cx="315.0" cy="29.3" r="1.5" fill="#9a78ff" opacity="0.60"/><circle cx="185.0" cy="3.4" r="1.1" fill="#3f5cf0" opacity="1.00"/><circle cx="184.5" cy="44.1" r="0.9" fill="#5a78f8" opacity="0.45"/><circle cx="3.0" cy="1.7" r="0.8" fill="#5a78f8" opacity="1.00"/><circle cx="107.0" cy="36.2" r="1.1" fill="#5f80ff" opacity="1.00"/><circle cx="74.2" cy="33.7" r="0.8" fill="#5a78f8" opacity="0.45"/><circle cx="6.7" cy="4.3" r="1.1" fill="#7090ff" opacity="1.00"/><circle cx="195.3" cy="44.8" r="1.3" fill="#9a78ff" opacity="0.70"/><circle cx="49.6" cy="13.3" r="0.9" fill="#3f5cf0" opacity="0.45"/><circle cx="71.0" cy="34.9" r="0.7" fill="#c070e0" opacity="1.00"/><circle cx="400.0" cy="2.5" r="0.7" fill="#5f80ff" opacity="0.60"/><circle cx="11.3" cy="52.1" r="1.5" fill="#4a6cff" opacity="0.42"/><circle cx="126.2" cy="33.7" r="1.0" fill="#4a6cff" opacity="0.60"/><circle cx="344.1" cy="37.8" r="1.1" fill="#7a50e8" opacity="0.85"/><circle cx="474.1" cy="27.1" r="0.8" fill="#a860e8" opacity="0.70"/><circle cx="166.5" cy="0.4" r="0.9" fill="#7a50e8" opacity="0.45"/><circle cx="142.7" cy="48.8" r="0.9" fill="#8a5cf0" opacity="0.45"/><circle cx="190.6" cy="51.1" r="1.1" fill="#a860e8" opacity="0.42"/><circle cx="115.9" cy="13.3" r="0.7" fill="#4a6cff" opacity="0.70"/><circle cx="426.9" cy="13.5" r="0.8" fill="#7a50e8" opacity="1.00"/><circle cx="447.0" cy="7.2" r="1.5" fill="#5f80ff" opacity="0.60"/><circle cx="160.5" cy="12.1" r="1.0" fill="#9a78ff" opacity="0.60"/><circle cx="122.9" cy="26.7" r="0.8" fill="#7090ff" opacity="0.60"/><circle cx="200.9" cy="55.4" r="1.1" fill="#9a78ff" opacity="0.50"/><circle cx="80.8" cy="48.9" r="0.7" fill="#4a6cff" opacity="1.00"/><circle cx="458.3" cy="41.2" r="0.7" fill="#5a78f8" opacity="0.60"/><circle cx="129.9" cy="21.8" r="0.7" fill="#5f80ff" opacity="0.70"/><circle cx="69.5" cy="49.9" r="0.7" fill="#3f5cf0" opacity="0.50"/><circle cx="396.4" cy="10.8" r="1.3" fill="#a860e8" opacity="0.70"/><circle cx="42.1" cy="40.1" r="0.9" fill="#7090ff" opacity="0.60"/><circle cx="423.3" cy="38.7" r="1.0" fill="#b458d8" opacity="0.85"/><circle cx="98.2" cy="47.4" r="0.9" fill="#4a6cff" opacity="0.60"/><circle cx="119.9" cy="15.2" r="1.1" fill="#86a0ff" opacity="0.45"/><circle cx="180.7" cy="34.1" r="1.0" fill="#7a50e8" opacity="0.60"/><circle cx="167.5" cy="2.2" r="0.9" fill="#5f80ff" opacity="1.00"/><circle cx="450.0" cy="31.9" r="0.9" fill="#86a0ff" opacity="1.00"/><circle cx="150.2" cy="0.1" r="1.5" fill="#86a0ff" opacity="0.70"/><circle cx="491.6" cy="49.0" r="1.3" fill="#a860e8" opacity="0.23"/><circle cx="9.1" cy="17.8" r="1.5" fill="#86a0ff" opacity="0.45"/><circle cx="187.8" cy="41.7" r="1.3" fill="#5f80ff" opacity="0.70"/><circle cx="251.6" cy="19.5" r="1.0" fill="#7a50e8" opacity="1.00"/><circle cx="383.4" cy="46.5" r="1.3" fill="#5a78f8" opacity="0.45"/><circle cx="343.6" cy="11.5" r="1.3" fill="#a860e8" opacity="0.85"/><circle cx="398.6" cy="2.4" r="1.3" fill="#5a78f8" opacity="0.70"/><circle cx="63.2" cy="9.2" r="1.5" fill="#5a78f8" opacity="0.70"/><circle cx="98.8" cy="3.3" r="0.9" fill="#4a6cff" opacity="0.60"/><circle cx="318.4" cy="7.7" r="1.3" fill="#86a0ff" opacity="0.85"/><circle cx="93.0" cy="13.5" r="1.1" fill="#5f80ff" opacity="0.70"/><circle cx="357.3" cy="7.5" r="1.3" fill="#9a78ff" opacity="0.60"/><circle cx="142.0" cy="45.7" r="1.1" fill="#a860e8" opacity="0.60"/><circle cx="294.9" cy="25.8" r="1.5" fill="#a860e8" opacity="0.45"/><circle cx="352.3" cy="0.7" r="1.0" fill="#8a5cf0" opacity="0.70"/><circle cx="126.4" cy="6.2" r="0.9" fill="#4a6cff" opacity="0.60"/><circle cx="137.1" cy="26.2" r="0.9" fill="#5a78f8" opacity="0.45"/><circle cx="11.8" cy="26.2" r="1.5" fill="#86a0ff" opacity="0.70"/><circle cx="228.9" cy="24.3" r="0.8" fill="#3f5cf0" opacity="0.45"/><circle cx="155.8" cy="5.1" r="0.9" fill="#86a0ff" opacity="0.70"/><circle cx="328.8" cy="4.4" r="1.3" fill="#c070e0" opacity="0.60"/><circle cx="122.4" cy="10.4" r="1.3" fill="#86a0ff" opacity="0.60"/><circle cx="32.4" cy="40.3" r="0.9" fill="#3f5cf0" opacity="0.85"/><circle cx="67.7" cy="46.2" r="0.9" fill="#5f80ff" opacity="1.00"/><circle cx="15.8" cy="6.0" r="1.5" fill="#86a0ff" opacity="0.85"/><circle cx="235.2" cy="8.8" r="0.9" fill="#86a0ff" opacity="0.45"/><circle cx="48.8" cy="12.7" r="0.8" fill="#7090ff" opacity="0.45"/><circle cx="83.5" cy="20.9" r="0.7" fill="#5a78f8" opacity="0.85"/><circle cx="49.3" cy="4.0" r="0.7" fill="#7090ff" opacity="0.70"/><circle cx="17.6" cy="0.5" r="1.5" fill="#86a0ff" opacity="0.60"/><circle cx="166.4" cy="0.2" r="1.5" fill="#7a50e8" opacity="1.00"/><circle cx="72.8" cy="4.8" r="0.9" fill="#7090ff" opacity="1.00"/><circle cx="496.8" cy="48.5" r="1.1" fill="#4a6cff" opacity="0.70"/><circle cx="301.4" cy="16.6" r="1.1" fill="#7a50e8" opacity="0.85"/><circle cx="330.9" cy="7.7" r="1.5" fill="#b458d8" opacity="0.45"/><circle cx="455.8" cy="12.5" r="1.3" fill="#b458d8" opacity="1.00"/><circle cx="162.7" cy="32.5" r="1.0" fill="#a860e8" opacity="1.00"/><circle cx="201.5" cy="14.6" r="0.8" fill="#a860e8" opacity="1.00"/><circle cx="390.8" cy="12.4" r="1.5" fill="#8a5cf0" opacity="0.60"/><circle cx="253.7" cy="14.1" r="1.0" fill="#c070e0" opacity="0.60"/><circle cx="260.0" cy="39.0" r="1.3" fill="#9a78ff" opacity="1.00"/><circle cx="23.9" cy="22.8" r="0.7" fill="#5f80ff" opacity="1.00"/><circle cx="265.6" cy="40.0" r="1.5" fill="#86a0ff" opacity="1.00"/><circle cx="32.3" cy="46.5" r="1.0" fill="#5f80ff" opacity="1.00"/><circle cx="220.9" cy="5.2" r="0.9" fill="#4a6cff" opacity="0.85"/><circle cx="92.6" cy="20.9" r="0.7" fill="#5f80ff" opacity="0.85"/><circle cx="124.3" cy="39.6" r="1.0" fill="#4a6cff" opacity="1.00"/><circle cx="376.7" cy="19.9" r="0.9" fill="#3f5cf0" opacity="0.45"/><circle cx="440.7" cy="6.9" r="1.3" fill="#7a50e8" opacity="0.85"/><circle cx="11.1" cy="33.8" r="0.7" fill="#3f5cf0" opacity="1.00"/><circle cx="36.7" cy="51.8" r="1.3" fill="#3f5cf0" opacity="0.30"/><circle cx="354.7" cy="1.2" r="1.1" fill="#8a5cf0" opacity="0.85"/><circle cx="35.6" cy="44.8" r="0.8" fill="#3f5cf0" opacity="0.85"/><circle cx="447.8" cy="32.9" r="1.3" fill="#3f5cf0" opacity="0.85"/><circle cx="2.6" cy="19.2" r="0.8" fill="#7090ff" opacity="0.45"/><circle cx="424.0" cy="2.0" r="0.8" fill="#86a0ff" opacity="1.00"/><circle cx="174.0" cy="26.6" r="0.8" fill="#7090ff" opacity="0.85"/><circle cx="88.8" cy="53.6" r="1.1" fill="#7a50e8" opacity="0.50"/><circle cx="82.6" cy="50.1" r="1.1" fill="#5f80ff" opacity="0.30"/><circle cx="436.4" cy="40.7" r="1.0" fill="#7a50e8" opacity="0.70"/><circle cx="0.9" cy="32.4" r="0.9" fill="#5f80ff" opacity="0.85"/><circle cx="474.8" cy="34.1" r="1.3" fill="#3f5cf0" opacity="0.85"/><circle cx="110.7" cy="28.0" r="0.9" fill="#5a78f8" opacity="1.00"/><circle cx="286.1" cy="7.8" r="1.3" fill="#9a78ff" opacity="0.45"/><circle cx="472.1" cy="43.4" r="1.3" fill="#7a50e8" opacity="0.60"/><circle cx="472.4" cy="52.6" r="0.9" fill="#3f5cf0" opacity="0.35"/><circle cx="240.7" cy="35.6" r="0.9" fill="#86a0ff" opacity="0.85"/><circle cx="142.4" cy="39.4" r="1.3" fill="#c070e0" opacity="1.00"/><circle cx="160.1" cy="13.6" r="0.8" fill="#5f80ff" opacity="0.60"/><circle cx="77.4" cy="49.8" r="1.3" fill="#7090ff" opacity="0.42"/><circle cx="276.6" cy="16.9" r="0.8" fill="#a860e8" opacity="0.70"/><circle cx="371.3" cy="14.1" r="1.1" fill="#7a50e8" opacity="0.45"/><circle cx="65.1" cy="32.5" r="1.0" fill="#86a0ff" opacity="0.85"/><circle cx="372.2" cy="51.6" r="1.5" fill="#a860e8" opacity="0.35"/><circle cx="489.4" cy="30.6" r="1.3" fill="#b458d8" opacity="0.45"/><circle cx="83.6" cy="22.4" r="0.8" fill="#3f5cf0" opacity="1.00"/><circle cx="325.6" cy="11.0" r="1.3" fill="#a860e8" opacity="1.00"/><circle cx="12.8" cy="4.1" r="1.5" fill="#3f5cf0" opacity="0.60"/><circle cx="0.8" cy="15.2" r="1.3" fill="#86a0ff" opacity="0.70"/><circle cx="390.4" cy="36.3" r="1.0" fill="#3f5cf0" opacity="0.60"/><circle cx="15.8" cy="23.2" r="0.7" fill="#9a78ff" opacity="0.70"/><circle cx="407.8" cy="55.3" r="1.0" fill="#c070e0" opacity="0.23"/><circle cx="5.8" cy="17.7" r="1.3" fill="#4a6cff" opacity="0.85"/><circle cx="304.3" cy="40.6" r="0.9" fill="#8a5cf0" opacity="0.60"/><circle cx="79.8" cy="29.7" r="1.5" fill="#7a50e8" opacity="0.85"/><circle cx="147.6" cy="38.1" r="1.5" fill="#b458d8" opacity="1.00"/><circle cx="280.4" cy="12.9" r="1.1" fill="#b458d8" opacity="0.85"/><circle cx="399.5" cy="43.5" r="0.9" fill="#5a78f8" opacity="0.85"/><circle cx="270.9" cy="20.2" r="1.1" fill="#5f80ff" opacity="0.70"/><circle cx="1.6" cy="26.6" r="1.3" fill="#3f5cf0" opacity="0.60"/><circle cx="27.6" cy="1.6" r="0.8" fill="#5a78f8" opacity="1.00"/><circle cx="77.2" cy="43.5" r="0.9" fill="#3f5cf0" opacity="0.60"/><circle cx="492.8" cy="48.8" r="1.5" fill="#8a5cf0" opacity="0.70"/><circle cx="409.2" cy="13.6" r="1.5" fill="#b458d8" opacity="0.70"/><circle cx="417.0" cy="1.5" r="1.3" fill="#4a6cff" opacity="0.85"/><circle cx="342.1" cy="19.6" r="0.8" fill="#c070e0" opacity="0.85"/><circle cx="100.0" cy="14.7" r="1.0" fill="#3f5cf0" opacity="0.60"/><circle cx="138.0" cy="23.8" r="0.9" fill="#7090ff" opacity="0.60"/><circle cx="514.1" cy="43.1" r="0.8" fill="#3f5cf0" opacity="0.45"/><circle cx="140.9" cy="27.2" r="0.8" fill="#b458d8" opacity="1.00"/><circle cx="294.2" cy="25.4" r="1.1" fill="#a860e8" opacity="0.70"/><circle cx="12.0" cy="43.3" r="1.0" fill="#5f80ff" opacity="0.70"/><circle cx="349.1" cy="45.1" r="0.8" fill="#4a6cff" opacity="0.60"/><circle cx="498.8" cy="8.4" r="0.7" fill="#7090ff" opacity="0.85"/><circle cx="27.7" cy="19.0" r="1.3" fill="#3f5cf0" opacity="0.45"/><circle cx="286.7" cy="11.3" r="1.3" fill="#4a6cff" opacity="0.60"/><circle cx="238.3" cy="13.0" r="1.0" fill="#86a0ff" opacity="0.45"/><circle cx="12.7" cy="50.1" r="0.7" fill="#4a6cff" opacity="0.42"/><circle cx="86.3" cy="30.3" r="1.3" fill="#5a78f8" opacity="0.45"/><circle cx="253.2" cy="47.0" r="0.7" fill="#a860e8" opacity="0.60"/><circle cx="378.8" cy="15.3" r="0.8" fill="#7a50e8" opacity="0.45"/><circle cx="416.8" cy="53.3" r="0.9" fill="#b458d8" opacity="0.23"/><circle cx="328.8" cy="30.5" r="1.1" fill="#c070e0" opacity="0.70"/><circle cx="177.7" cy="17.8" r="1.0" fill="#a860e8" opacity="0.85"/><circle cx="398.0" cy="49.4" r="1.5" fill="#b458d8" opacity="0.23"/><circle cx="93.6" cy="28.1" r="0.9" fill="#86a0ff" opacity="0.85"/><circle cx="26.4" cy="34.8" r="0.7" fill="#4a6cff" opacity="0.85"/><circle cx="354.8" cy="18.2" r="1.3" fill="#b458d8" opacity="0.70"/><circle cx="209.6" cy="32.4" r="1.0" fill="#7090ff" opacity="1.00"/><circle cx="146.7" cy="30.6" r="1.0" fill="#b458d8" opacity="0.85"/><circle cx="153.6" cy="3.6" r="1.1" fill="#b458d8" opacity="0.70"/><circle cx="20.9" cy="44.6" r="1.3" fill="#5a78f8" opacity="0.70"/><circle cx="105.1" cy="47.1" r="1.5" fill="#5a78f8" opacity="1.00"/><circle cx="221.8" cy="12.4" r="0.8" fill="#9a78ff" opacity="0.70"/><circle cx="249.6" cy="29.5" r="1.5" fill="#b458d8" opacity="0.60"/><circle cx="53.3" cy="37.1" r="0.8" fill="#86a0ff" opacity="0.45"/><circle cx="135.8" cy="20.3" r="1.5" fill="#4a6cff" opacity="0.85"/><circle cx="54.0" cy="14.1" r="0.7" fill="#86a0ff" opacity="1.00"/><circle cx="248.1" cy="25.4" r="0.7" fill="#7a50e8" opacity="0.85"/><circle cx="355.4" cy="25.2" r="1.0" fill="#5f80ff" opacity="1.00"/><circle cx="52.2" cy="38.1" r="0.9" fill="#86a0ff" opacity="0.60"/><circle cx="309.8" cy="29.3" r="1.5" fill="#8a5cf0" opacity="1.00"/><circle cx="75.3" cy="32.0" r="0.7" fill="#3f5cf0" opacity="1.00"/><circle cx="111.3" cy="18.1" r="0.8" fill="#7090ff" opacity="0.45"/><circle cx="250.4" cy="27.6" r="0.7" fill="#c070e0" opacity="0.70"/><circle cx="306.8" cy="20.8" r="0.7" fill="#7090ff" opacity="0.70"/><circle cx="10.6" cy="42.2" r="1.0" fill="#5a78f8" opacity="0.70"/><circle cx="152.0" cy="21.6" r="1.1" fill="#9a78ff" opacity="0.60"/><circle cx="17.8" cy="11.4" r="1.5" fill="#c070e0" opacity="0.85"/><circle cx="174.4" cy="23.2" r="1.3" fill="#4a6cff" opacity="0.45"/><circle cx="291.3" cy="25.9" r="1.0" fill="#7090ff" opacity="0.85"/><circle cx="176.8" cy="7.6" r="1.5" fill="#86a0ff" opacity="0.60"/><circle cx="384.6" cy="22.5" r="0.7" fill="#3f5cf0" opacity="1.00"/><circle cx="140.1" cy="21.7" r="1.0" fill="#a860e8" opacity="0.45"/><circle cx="278.0" cy="0.9" r="1.0" fill="#a860e8" opacity="1.00"/><circle cx="208.9" cy="46.1" r="0.8" fill="#7090ff" opacity="0.45"/><circle cx="265.5" cy="41.9" r="1.5" fill="#c070e0" opacity="0.45"/><circle cx="471.8" cy="8.1" r="1.1" fill="#5f80ff" opacity="1.00"/><circle cx="111.4" cy="14.7" r="0.9" fill="#86a0ff" opacity="0.70"/><circle cx="268.7" cy="28.6" r="1.0" fill="#3f5cf0" opacity="0.70"/><circle cx="98.3" cy="21.3" r="1.0" fill="#3f5cf0" opacity="0.70"/><circle cx="75.8" cy="2.9" r="1.1" fill="#7090ff" opacity="0.85"/><circle cx="364.9" cy="7.9" r="1.5" fill="#c070e0" opacity="1.00"/><circle cx="335.6" cy="40.8" r="0.7" fill="#c070e0" opacity="1.00"/><circle cx="439.2" cy="2.0" r="1.0" fill="#b458d8" opacity="0.60"/><circle cx="425.3" cy="33.2" r="1.0" fill="#b458d8" opacity="0.85"/><circle cx="76.7" cy="11.4" r="0.8" fill="#86a0ff" opacity="0.45"/><circle cx="12.9" cy="48.3" r="0.7" fill="#7090ff" opacity="0.60"/><circle cx="2.7" cy="40.4" r="1.3" fill="#7090ff" opacity="0.60"/><circle cx="341.9" cy="37.8" r="0.9" fill="#5a78f8" opacity="0.60"/><circle cx="50.4" cy="51.4" r="0.8" fill="#7090ff" opacity="0.23"/><circle cx="75.7" cy="5.1" r="0.7" fill="#86a0ff" opacity="0.70"/><circle cx="362.5" cy="24.8" r="1.0" fill="#8a5cf0" opacity="0.60"/><circle cx="10.6" cy="46.8" r="0.9" fill="#5a78f8" opacity="0.70"/><circle cx="363.0" cy="40.3" r="0.9" fill="#3f5cf0" opacity="1.00"/><circle cx="451.2" cy="8.5" r="0.8" fill="#8a5cf0" opacity="0.70"/><circle cx="167.1" cy="35.9" r="0.8" fill="#86a0ff" opacity="0.45"/><circle cx="74.0" cy="8.3" r="0.8" fill="#86a0ff" opacity="0.85"/><circle cx="37.2" cy="46.4" r="0.7" fill="#5f80ff" opacity="1.00"/><circle cx="251.1" cy="16.3" r="0.9" fill="#c070e0" opacity="0.45"/><circle cx="75.1" cy="15.7" r="0.9" fill="#5a78f8" opacity="0.45"/><circle cx="75.5" cy="26.3" r="1.5" fill="#5f80ff" opacity="1.00"/><circle cx="507.7" cy="1.8" r="0.7" fill="#a860e8" opacity="0.70"/><circle cx="13.3" cy="18.7" r="1.0" fill="#3f5cf0" opacity="0.70"/><circle cx="65.1" cy="44.1" r="0.9" fill="#86a0ff" opacity="1.00"/><circle cx="209.3" cy="41.8" r="0.7" fill="#5a78f8" opacity="0.85"/><circle cx="213.0" cy="1.9" r="1.1" fill="#c070e0" opacity="0.60"/><circle cx="186.7" cy="46.9" r="0.7" fill="#b458d8" opacity="0.60"/><circle cx="155.9" cy="37.1" r="0.7" fill="#b458d8" opacity="0.85"/><circle cx="126.1" cy="14.6" r="0.7" fill="#4a6cff" opacity="0.60"/><circle cx="233.2" cy="30.0" r="0.7" fill="#a860e8" opacity="0.60"/><circle cx="276.4" cy="2.4" r="0.9" fill="#a860e8" opacity="0.70"/><circle cx="180.2" cy="11.4" r="0.8" fill="#86a0ff" opacity="1.00"/><circle cx="236.5" cy="49.9" r="0.7" fill="#8a5cf0" opacity="0.42"/><circle cx="418.2" cy="39.3" r="0.8" fill="#5f80ff" opacity="0.45"/><circle cx="390.9" cy="8.6" r="0.9" fill="#7090ff" opacity="0.85"/><circle cx="310.7" cy="6.1" r="1.1" fill="#4a6cff" opacity="1.00"/><circle cx="83.2" cy="13.6" r="1.5" fill="#86a0ff" opacity="0.45"/><circle cx="437.9" cy="4.1" r="0.7" fill="#9a78ff" opacity="0.60"/><circle cx="433.4" cy="19.2" r="1.0" fill="#a860e8" opacity="0.45"/><circle cx="133.5" cy="52.2" r="1.5" fill="#4a6cff" opacity="0.30"/><circle cx="51.4" cy="28.6" r="0.8" fill="#3f5cf0" opacity="0.60"/><circle cx="76.7" cy="51.8" r="1.3" fill="#4a6cff" opacity="0.23"/><circle cx="418.1" cy="26.9" r="1.0" fill="#7a50e8" opacity="0.45"/><circle cx="391.8" cy="35.6" r="0.8" fill="#4a6cff" opacity="0.70"/><circle cx="414.9" cy="5.2" r="1.3" fill="#5a78f8" opacity="0.60"/><circle cx="425.9" cy="27.6" r="1.5" fill="#5f80ff" opacity="0.70"/><circle cx="442.6" cy="52.5" r="1.3" fill="#b458d8" opacity="0.50"/><circle cx="58.8" cy="21.6" r="1.3" fill="#5a78f8" opacity="0.70"/><circle cx="389.6" cy="33.2" r="1.3" fill="#4a6cff" opacity="0.45"/><circle cx="449.2" cy="13.0" r="1.0" fill="#c070e0" opacity="1.00"/><circle cx="496.4" cy="38.4" r="1.0" fill="#7090ff" opacity="0.70"/><circle cx="440.8" cy="22.7" r="1.3" fill="#3f5cf0" opacity="1.00"/><circle cx="124.6" cy="33.8" r="0.7" fill="#7090ff" opacity="0.85"/><circle cx="184.2" cy="16.8" r="0.8" fill="#a860e8" opacity="0.45"/><circle cx="152.8" cy="47.3" r="1.1" fill="#7a50e8" opacity="0.45"/><circle cx="182.3" cy="30.1" r="0.8" fill="#b458d8" opacity="0.45"/><circle cx="164.7" cy="50.2" r="1.0" fill="#a860e8" opacity="0.35"/><circle cx="60.0" cy="19.7" r="1.5" fill="#7090ff" opacity="0.70"/><circle cx="235.3" cy="53.5" r="1.1" fill="#5a78f8" opacity="0.30"/><circle cx="461.6" cy="54.2" r="0.7" fill="#a860e8" opacity="0.23"/><circle cx="521.8" cy="25.5" r="0.9" fill="#86a0ff" opacity="0.45"/><circle cx="337.0" cy="7.6" r="1.5" fill="#86a0ff" opacity="0.85"/><circle cx="22.3" cy="34.9" r="1.0" fill="#3f5cf0" opacity="0.70"/><circle cx="127.1" cy="39.7" r="1.3" fill="#5a78f8" opacity="0.45"/><circle cx="348.0" cy="31.2" r="1.0" fill="#9a78ff" opacity="0.60"/><circle cx="377.1" cy="42.0" r="0.7" fill="#7090ff" opacity="0.60"/><circle cx="1.1" cy="52.4" r="0.9" fill="#5a78f8" opacity="0.50"/><circle cx="240.2" cy="55.9" r="0.8" fill="#86a0ff" opacity="0.35"/><circle cx="312.6" cy="13.5" r="1.5" fill="#c070e0" opacity="1.00"/><circle cx="343.6" cy="21.3" r="1.3" fill="#7a50e8" opacity="0.70"/><circle cx="57.5" cy="32.2" r="1.5" fill="#9a78ff" opacity="0.70"/><circle cx="486.6" cy="11.2" r="0.7" fill="#b458d8" opacity="1.00"/><circle cx="61.4" cy="17.5" r="0.7" fill="#7090ff" opacity="0.70"/><circle cx="199.7" cy="6.1" r="0.9" fill="#7a50e8" opacity="0.85"/><circle cx="419.2" cy="26.5" r="0.7" fill="#9a78ff" opacity="0.85"/><circle cx="236.2" cy="22.9" r="0.8" fill="#3f5cf0" opacity="0.45"/><circle cx="53.2" cy="42.4" r="1.0" fill="#86a0ff" opacity="0.85"/><circle cx="392.6" cy="15.4" r="0.9" fill="#7090ff" opacity="1.00"/><circle cx="431.0" cy="47.7" r="1.0" fill="#4a6cff" opacity="1.00"/><circle cx="441.4" cy="31.7" r="0.9" fill="#a860e8" opacity="0.45"/><circle cx="474.3" cy="5.4" r="1.5" fill="#b458d8" opacity="0.45"/><circle cx="373.3" cy="41.6" r="0.7" fill="#7090ff" opacity="0.70"/><circle cx="178.1" cy="28.0" r="0.9" fill="#a860e8" opacity="0.60"/><circle cx="254.3" cy="29.2" r="1.3" fill="#3f5cf0" opacity="0.60"/><circle cx="81.1" cy="38.2" r="1.0" fill="#8a5cf0" opacity="1.00"/><circle cx="338.1" cy="32.4" r="1.0" fill="#b458d8" opacity="0.70"/><circle cx="413.9" cy="38.1" r="1.5" fill="#5f80ff" opacity="0.60"/><circle cx="340.4" cy="42.2" r="1.1" fill="#7a50e8" opacity="0.45"/><circle cx="386.3" cy="46.0" r="1.3" fill="#7a50e8" opacity="0.60"/><circle cx="325.2" cy="49.0" r="1.0" fill="#3f5cf0" opacity="0.23"/><circle cx="404.9" cy="33.9" r="1.1" fill="#a860e8" opacity="0.60"/><circle cx="129.1" cy="20.1" r="1.1" fill="#4a6cff" opacity="0.70"/><circle cx="5.1" cy="29.0" r="0.7" fill="#3f5cf0" opacity="0.60"/><circle cx="0.5" cy="35.2" r="0.8" fill="#5a78f8" opacity="0.45"/><circle cx="7.7" cy="30.1" r="1.0" fill="#a860e8" opacity="0.70"/><circle cx="314.0" cy="19.0" r="0.9" fill="#a860e8" opacity="0.60"/><circle cx="269.2" cy="45.9" r="0.9" fill="#5a78f8" opacity="1.00"/><circle cx="367.0" cy="12.5" r="0.8" fill="#9a78ff" opacity="0.70"/><circle cx="191.6" cy="3.5" r="1.3" fill="#8a5cf0" opacity="1.00"/><circle cx="36.4" cy="21.9" r="1.1" fill="#86a0ff" opacity="0.45"/><circle cx="426.5" cy="53.8" r="0.9" fill="#3f5cf0" opacity="0.23"/><circle cx="321.7" cy="32.2" r="1.0" fill="#b458d8" opacity="1.00"/><circle cx="209.1" cy="19.1" r="0.8" fill="#a860e8" opacity="0.70"/><circle cx="397.1" cy="4.3" r="1.1" fill="#a860e8" opacity="0.60"/><circle cx="406.1" cy="11.3" r="1.5" fill="#3f5cf0" opacity="0.45"/><circle cx="504.5" cy="40.5" r="0.7" fill="#c070e0" opacity="0.45"/><circle cx="447.3" cy="35.9" r="1.1" fill="#7a50e8" opacity="0.60"/><circle cx="274.5" cy="17.7" r="0.9" fill="#8a5cf0" opacity="0.60"/><circle cx="353.0" cy="23.6" r="0.7" fill="#7090ff" opacity="0.45"/><circle cx="147.0" cy="48.1" r="0.9" fill="#7090ff" opacity="0.85"/><circle cx="221.6" cy="46.0" r="0.8" fill="#5a78f8" opacity="1.00"/><circle cx="99.6" cy="21.8" r="0.9" fill="#4a6cff" opacity="0.60"/><circle cx="365.1" cy="52.9" r="1.1" fill="#b458d8" opacity="0.42"/><circle cx="57.1" cy="50.2" r="1.0" fill="#4a6cff" opacity="0.23"/><circle cx="81.5" cy="32.8" r="1.0" fill="#8a5cf0" opacity="0.85"/><circle cx="410.7" cy="11.4" r="1.1" fill="#8a5cf0" opacity="0.70"/><circle cx="144.6" cy="31.3" r="1.0" fill="#b458d8" opacity="0.60"/><circle cx="1.2" cy="11.4" r="0.9" fill="#4a6cff" opacity="0.45"/><circle cx="290.3" cy="7.1" r="0.8" fill="#9a78ff" opacity="1.00"/><circle cx="504.9" cy="38.4" r="1.5" fill="#b458d8" opacity="0.45"/><circle cx="464.9" cy="9.5" r="1.5" fill="#5f80ff" opacity="0.85"/><circle cx="353.5" cy="26.4" r="0.8" fill="#c070e0" opacity="1.00"/><circle cx="168.0" cy="39.2" r="1.5" fill="#5f80ff" opacity="0.45"/><circle cx="173.9" cy="44.1" r="1.5" fill="#b458d8" opacity="0.45"/><circle cx="95.4" cy="50.8" r="0.8" fill="#4a6cff" opacity="0.42"/><circle cx="12.8" cy="13.5" r="0.8" fill="#4a6cff" opacity="1.00"/><circle cx="319.7" cy="51.5" r="0.9" fill="#c070e0" opacity="0.23"/><circle cx="223.1" cy="53.6" r="1.5" fill="#86a0ff" opacity="0.23"/><circle cx="68.8" cy="45.2" r="0.8" fill="#3f5cf0" opacity="0.45"/><circle cx="241.2" cy="53.6" r="1.0" fill="#4a6cff" opacity="0.23"/><circle cx="458.0" cy="31.1" r="1.1" fill="#9a78ff" opacity="1.00"/><circle cx="418.3" cy="30.1" r="1.3" fill="#9a78ff" opacity="1.00"/><circle cx="119.7" cy="22.2" r="0.7" fill="#5f80ff" opacity="0.45"/><circle cx="69.0" cy="28.4" r="1.5" fill="#4a6cff" opacity="0.60"/><circle cx="340.6" cy="55.1" r="1.1" fill="#5a78f8" opacity="0.50"/><circle cx="152.1" cy="5.3" r="1.3" fill="#8a5cf0" opacity="0.45"/><circle cx="160.3" cy="17.0" r="1.5" fill="#c070e0" opacity="1.00"/><circle cx="281.2" cy="18.8" r="0.8" fill="#8a5cf0" opacity="0.45"/><circle cx="37.0" cy="38.8" r="1.1" fill="#7090ff" opacity="0.85"/><circle cx="80.0" cy="42.5" r="1.5" fill="#4a6cff" opacity="0.45"/><circle cx="369.3" cy="1.7" r="1.3" fill="#c070e0" opacity="0.45"/><circle cx="65.6" cy="52.8" r="1.0" fill="#5f80ff" opacity="0.35"/><circle cx="415.6" cy="47.4" r="0.7" fill="#8a5cf0" opacity="0.60"/><circle cx="202.3" cy="54.9" r="1.3" fill="#7090ff" opacity="0.50"/><circle cx="448.2" cy="55.7" r="0.9" fill="#4a6cff" opacity="0.42"/><circle cx="257.9" cy="19.1" r="1.1" fill="#3f5cf0" opacity="0.45"/><circle cx="404.2" cy="43.4" r="0.9" fill="#5a78f8" opacity="0.60"/><circle cx="33.4" cy="46.2" r="0.9" fill="#3f5cf0" opacity="0.70"/><circle cx="18.1" cy="6.8" r="1.0" fill="#5a78f8" opacity="0.45"/><circle cx="326.8" cy="30.2" r="1.0" fill="#5a78f8" opacity="0.45"/><circle cx="325.4" cy="12.2" r="1.5" fill="#4a6cff" opacity="0.70"/><circle cx="195.8" cy="6.6" r="0.8" fill="#5a78f8" opacity="0.60"/><circle cx="352.6" cy="41.8" r="1.5" fill="#7a50e8" opacity="0.70"/><circle cx="532.6" cy="5.1" r="1.3" fill="#b458d8" opacity="1.00"/><circle cx="48.8" cy="3.9" r="0.7" fill="#3f5cf0" opacity="0.45"/><circle cx="18.0" cy="3.7" r="0.7" fill="#8a5cf0" opacity="0.60"/><circle cx="269.6" cy="40.5" r="1.3" fill="#86a0ff" opacity="0.70"/><circle cx="505.1" cy="25.2" r="0.9" fill="#c070e0" opacity="0.60"/><circle cx="203.5" cy="40.8" r="0.7" fill="#7090ff" opacity="0.70"/><circle cx="136.2" cy="11.5" r="1.0" fill="#5f80ff" opacity="0.45"/><circle cx="460.4" cy="45.0" r="0.9" fill="#5f80ff" opacity="0.45"/><circle cx="494.2" cy="8.8" r="1.1" fill="#7a50e8" opacity="0.60"/><circle cx="11.8" cy="27.0" r="1.5" fill="#7090ff" opacity="0.70"/><circle cx="328.2" cy="31.9" r="0.8" fill="#7a50e8" opacity="0.45"/><circle cx="108.1" cy="52.1" r="0.9" fill="#86a0ff" opacity="0.30"/><circle cx="47.3" cy="44.1" r="0.9" fill="#5f80ff" opacity="1.00"/><circle cx="335.1" cy="48.9" r="1.5" fill="#c070e0" opacity="0.45"/><circle cx="86.3" cy="10.9" r="0.8" fill="#3f5cf0" opacity="0.60"/><circle cx="321.5" cy="26.4" r="1.5" fill="#8a5cf0" opacity="0.85"/><circle cx="199.7" cy="6.5" r="1.0" fill="#c070e0" opacity="0.45"/><circle cx="180.8" cy="27.2" r="0.8" fill="#7090ff" opacity="0.85"/><circle cx="16.9" cy="10.7" r="0.9" fill="#7090ff" opacity="0.60"/><circle cx="85.5" cy="41.7" r="1.1" fill="#7090ff" opacity="0.45"/><circle cx="16.6" cy="24.2" r="0.7" fill="#5f80ff" opacity="1.00"/><circle cx="106.6" cy="51.7" r="1.0" fill="#5f80ff" opacity="0.23"/><circle cx="428.2" cy="35.3" r="0.7" fill="#b458d8" opacity="0.70"/><circle cx="19.5" cy="39.4" r="1.0" fill="#5f80ff" opacity="1.00"/><circle cx="2.0" cy="36.6" r="1.1" fill="#86a0ff" opacity="0.85"/><circle cx="350.2" cy="1.8" r="1.3" fill="#c070e0" opacity="1.00"/><circle cx="47.7" cy="20.4" r="1.0" fill="#3f5cf0" opacity="0.45"/><circle cx="462.0" cy="20.6" r="0.8" fill="#4a6cff" opacity="1.00"/><circle cx="211.3" cy="40.5" r="1.0" fill="#8a5cf0" opacity="0.70"/><circle cx="200.1" cy="7.9" r="0.8" fill="#7a50e8" opacity="1.00"/><circle cx="74.6" cy="3.7" r="0.7" fill="#4a6cff" opacity="0.70"/><circle cx="242.3" cy="53.1" r="1.0" fill="#5f80ff" opacity="0.50"/><circle cx="129.5" cy="43.9" r="0.9" fill="#3f5cf0" opacity="0.45"/><circle cx="182.0" cy="19.2" r="1.3" fill="#5a78f8" opacity="0.70"/><circle cx="403.9" cy="13.4" r="1.5" fill="#9a78ff" opacity="0.70"/><circle cx="299.8" cy="26.6" r="1.1" fill="#5f80ff" opacity="0.70"/><circle cx="94.3" cy="6.8" r="1.0" fill="#5f80ff" opacity="1.00"/><circle cx="45.9" cy="18.0" r="1.5" fill="#a860e8" opacity="0.85"/><circle cx="60.0" cy="32.8" r="1.0" fill="#3f5cf0" opacity="1.00"/><circle cx="334.2" cy="48.2" r="1.3" fill="#b458d8" opacity="0.85"/><circle cx="29.5" cy="24.4" r="1.5" fill="#8a5cf0" opacity="0.70"/><circle cx="20.4" cy="42.2" r="0.8" fill="#7090ff" opacity="0.45"/><circle cx="252.9" cy="47.5" r="1.5" fill="#86a0ff" opacity="1.00"/><circle cx="285.3" cy="25.0" r="1.0" fill="#5a78f8" opacity="0.70"/><circle cx="22.4" cy="50.3" r="1.1" fill="#86a0ff" opacity="0.35"/><circle cx="322.7" cy="23.1" r="1.1" fill="#8a5cf0" opacity="0.45"/><circle cx="310.7" cy="26.4" r="1.3" fill="#8a5cf0" opacity="0.85"/><circle cx="221.0" cy="38.0" r="1.3" fill="#5f80ff" opacity="0.85"/><circle cx="195.4" cy="53.6" r="0.8" fill="#c070e0" opacity="0.30"/><circle cx="491.0" cy="13.0" r="0.9" fill="#c070e0" opacity="0.70"/><circle cx="42.7" cy="12.5" r="0.8" fill="#4a6cff" opacity="0.45"/><circle cx="241.3" cy="49.5" r="1.1" fill="#8a5cf0" opacity="0.42"/><circle cx="284.9" cy="52.8" r="1.1" fill="#7a50e8" opacity="0.42"/><circle cx="131.9" cy="45.4" r="1.3" fill="#b458d8" opacity="0.60"/><circle cx="174.8" cy="6.6" r="1.3" fill="#5a78f8" opacity="0.60"/><circle cx="317.2" cy="39.5" r="1.5" fill="#7a50e8" opacity="0.70"/><circle cx="58.2" cy="3.6" r="1.0" fill="#5a78f8" opacity="0.45"/><circle cx="74.1" cy="0.8" r="1.1" fill="#5a78f8" opacity="0.70"/><circle cx="6.7" cy="44.7" r="1.5" fill="#86a0ff" opacity="0.60"/><circle cx="0.6" cy="12.9" r="0.9" fill="#5f80ff" opacity="0.45"/><circle cx="5.3" cy="4.6" r="0.7" fill="#5f80ff" opacity="0.85"/><circle cx="142.9" cy="29.3" r="0.9" fill="#b458d8" opacity="0.85"/><circle cx="473.8" cy="18.6" r="0.9" fill="#8a5cf0" opacity="0.45"/><circle cx="310.6" cy="39.0" r="0.9" fill="#b458d8" opacity="0.70"/><circle cx="146.3" cy="27.5" r="0.8" fill="#5a78f8" opacity="0.45"/><circle cx="391.7" cy="47.0" r="1.0" fill="#b458d8" opacity="0.45"/><circle cx="88.9" cy="44.6" r="1.5" fill="#4a6cff" opacity="1.00"/><circle cx="53.3" cy="44.5" r="1.0" fill="#5f80ff" opacity="1.00"/><circle cx="28.9" cy="37.2" r="1.1" fill="#4a6cff" opacity="0.60"/><circle cx="513.9" cy="12.1" r="1.0" fill="#7a50e8" opacity="1.00"/><circle cx="191.3" cy="29.9" r="1.3" fill="#a860e8" opacity="0.45"/><circle cx="84.8" cy="16.3" r="1.3" fill="#7090ff" opacity="1.00"/><circle cx="71.3" cy="10.3" r="0.9" fill="#3f5cf0" opacity="0.60"/><circle cx="55.5" cy="12.7" r="1.5" fill="#86a0ff" opacity="0.70"/><circle cx="176.2" cy="29.3" r="0.9" fill="#9a78ff" opacity="0.70"/><circle cx="27.3" cy="2.7" r="1.1" fill="#5f80ff" opacity="0.60"/><circle cx="213.2" cy="11.1" r="0.7" fill="#86a0ff" opacity="1.00"/><circle cx="470.5" cy="38.4" r="0.9" fill="#4a6cff" opacity="0.45"/><circle cx="310.4" cy="24.5" r="0.7" fill="#b458d8" opacity="1.00"/><circle cx="85.3" cy="17.8" r="1.0" fill="#7090ff" opacity="0.70"/><circle cx="256.2" cy="43.7" r="1.3" fill="#5a78f8" opacity="0.45"/><circle cx="33.5" cy="25.5" r="1.3" fill="#5f80ff" opacity="0.45"/><circle cx="462.6" cy="52.8" r="0.7" fill="#9a78ff" opacity="0.23"/><circle cx="124.3" cy="3.8" r="1.5" fill="#3f5cf0" opacity="0.85"/><circle cx="247.2" cy="8.1" r="1.3" fill="#b458d8" opacity="0.45"/><circle cx="7.5" cy="50.9" r="1.3" fill="#4a6cff" opacity="0.23"/><circle cx="132.7" cy="45.8" r="1.1" fill="#5f80ff" opacity="0.60"/><circle cx="62.8" cy="42.8" r="1.0" fill="#3f5cf0" opacity="0.45"/><circle cx="484.8" cy="25.7" r="0.7" fill="#b458d8" opacity="0.85"/><circle cx="219.5" cy="53.6" r="1.1" fill="#7090ff" opacity="0.42"/><circle cx="368.9" cy="41.1" r="0.8" fill="#7090ff" opacity="0.45"/><circle cx="468.8" cy="28.7" r="0.7" fill="#c070e0" opacity="0.60"/><circle cx="377.5" cy="47.5" r="1.3" fill="#c070e0" opacity="0.45"/><circle cx="438.1" cy="48.3" r="0.7" fill="#3f5cf0" opacity="1.00"/><circle cx="9.8" cy="2.1" r="0.9" fill="#3f5cf0" opacity="0.70"/><circle cx="175.0" cy="15.9" r="0.8" fill="#b458d8" opacity="0.85"/><circle cx="395.0" cy="43.1" r="1.1" fill="#5f80ff" opacity="0.45"/><circle cx="432.3" cy="14.2" r="1.0" fill="#7a50e8" opacity="0.60"/><circle cx="94.0" cy="39.9" r="1.3" fill="#3f5cf0" opacity="0.60"/><circle cx="517.1" cy="41.7" r="1.3" fill="#5a78f8" opacity="0.85"/><circle cx="390.1" cy="46.9" r="1.3" fill="#a860e8" opacity="0.45"/><circle cx="31.6" cy="18.3" r="0.7" fill="#4a6cff" opacity="0.60"/><circle cx="161.6" cy="34.4" r="1.0" fill="#5f80ff" opacity="0.85"/><circle cx="320.6" cy="17.4" r="1.0" fill="#3f5cf0" opacity="1.00"/><circle cx="218.2" cy="50.4" r="1.3" fill="#86a0ff" opacity="0.35"/><circle cx="279.3" cy="5.9" r="1.1" fill="#5a78f8" opacity="0.45"/><circle cx="226.1" cy="23.3" r="1.3" fill="#a860e8" opacity="0.70"/><circle cx="260.9" cy="51.9" r="1.3" fill="#4a6cff" opacity="0.50"/><circle cx="8.4" cy="33.1" r="1.0" fill="#a860e8" opacity="0.85"/><circle cx="244.4" cy="41.7" r="0.7" fill="#b458d8" opacity="1.00"/><circle cx="424.8" cy="12.3" r="1.3" fill="#c070e0" opacity="0.45"/><circle cx="139.6" cy="41.0" r="0.8" fill="#5a78f8" opacity="0.45"/><circle cx="338.5" cy="8.0" r="1.0" fill="#5a78f8" opacity="0.60"/><circle cx="67.2" cy="51.0" r="1.1" fill="#4a6cff" opacity="0.50"/><circle cx="157.1" cy="51.7" r="0.8" fill="#9a78ff" opacity="0.30"/><circle cx="241.8" cy="52.2" r="1.1" fill="#a860e8" opacity="0.42"/><circle cx="425.9" cy="23.7" r="1.1" fill="#5a78f8" opacity="0.70"/><circle cx="91.0" cy="12.1" r="1.3" fill="#4a6cff" opacity="0.45"/><circle cx="425.5" cy="50.6" r="0.8" fill="#5f80ff" opacity="0.50"/><circle cx="101.8" cy="28.9" r="0.8" fill="#5f80ff" opacity="0.60"/><circle cx="213.5" cy="33.3" r="0.8" fill="#c070e0" opacity="1.00"/><circle cx="14.1" cy="52.9" r="1.0" fill="#4a6cff" opacity="0.50"/><circle cx="344.3" cy="8.0" r="1.0" fill="#a860e8" opacity="1.00"/><circle cx="143.3" cy="42.9" r="0.8" fill="#5f80ff" opacity="0.60"/><circle cx="470.0" cy="20.0" r="0.9" fill="#a860e8" opacity="0.85"/><circle cx="25.7" cy="10.8" r="0.9" fill="#3f5cf0" opacity="0.60"/><circle cx="188.0" cy="47.0" r="1.5" fill="#7090ff" opacity="0.85"/><circle cx="290.8" cy="8.1" r="0.8" fill="#7a50e8" opacity="0.85"/><circle cx="192.3" cy="19.7" r="1.3" fill="#86a0ff" opacity="0.60"/><circle cx="215.2" cy="46.7" r="1.1" fill="#b458d8" opacity="0.85"/><circle cx="153.2" cy="35.3" r="1.3" fill="#c070e0" opacity="1.00"/><circle cx="123.4" cy="31.0" r="1.3" fill="#4a6cff" opacity="0.60"/><circle cx="312.2" cy="38.0" r="1.0" fill="#5a78f8" opacity="1.00"/><circle cx="344.1" cy="19.0" r="0.8" fill="#c070e0" opacity="0.60"/><circle cx="116.9" cy="7.6" r="1.5" fill="#5a78f8" opacity="0.70"/><circle cx="428.0" cy="24.7" r="0.9" fill="#8a5cf0" opacity="0.70"/><circle cx="264.6" cy="44.3" r="0.9" fill="#7090ff" opacity="0.45"/><circle cx="141.5" cy="21.7" r="1.1" fill="#7a50e8" opacity="0.45"/><circle cx="161.9" cy="21.7" r="0.9" fill="#86a0ff" opacity="1.00"/><circle cx="2.2" cy="49.9" r="0.9" fill="#5f80ff" opacity="0.42"/><circle cx="4.7" cy="10.8" r="0.7" fill="#5f80ff" opacity="0.60"/><circle cx="130.1" cy="12.3" r="1.0" fill="#86a0ff" opacity="0.45"/><circle cx="523.1" cy="30.9" r="0.7" fill="#5f80ff" opacity="0.85"/><circle cx="448.7" cy="2.2" r="1.3" fill="#8a5cf0" opacity="0.60"/><circle cx="293.9" cy="54.7" r="0.7" fill="#a860e8" opacity="0.23"/><circle cx="9.7" cy="18.4" r="1.3" fill="#4a6cff" opacity="0.85"/><circle cx="57.6" cy="10.1" r="1.1" fill="#5f80ff" opacity="0.70"/><circle cx="39.9" cy="48.0" r="0.9" fill="#3f5cf0" opacity="0.85"/><circle cx="90.5" cy="54.6" r="1.3" fill="#5f80ff" opacity="0.30"/><circle cx="65.6" cy="8.5" r="0.9" fill="#86a0ff" opacity="0.45"/><circle cx="203.8" cy="34.8" r="0.7" fill="#5a78f8" opacity="1.00"/><circle cx="2.6" cy="24.6" r="0.7" fill="#3f5cf0" opacity="0.85"/><circle cx="242.2" cy="8.3" r="0.7" fill="#5a78f8" opacity="1.00"/><circle cx="49.0" cy="9.8" r="1.0" fill="#86a0ff" opacity="0.45"/><circle cx="235.6" cy="51.7" r="1.3" fill="#8a5cf0" opacity="0.35"/><circle cx="186.0" cy="37.5" r="1.1" fill="#b458d8" opacity="0.85"/><circle cx="142.1" cy="26.9" r="1.1" fill="#5a78f8" opacity="0.60"/><circle cx="132.9" cy="21.1" r="0.9" fill="#5f80ff" opacity="1.00"/><circle cx="437.8" cy="55.5" r="0.9" fill="#5a78f8" opacity="0.35"/><circle cx="424.4" cy="18.9" r="1.1" fill="#7090ff" opacity="0.70"/><circle cx="462.7" cy="55.4" r="1.5" fill="#5f80ff" opacity="0.42"/><circle cx="398.1" cy="32.1" r="0.9" fill="#c070e0" opacity="0.45"/><circle cx="26.6" cy="43.5" r="0.7" fill="#4a6cff" opacity="1.00"/><circle cx="471.4" cy="24.7" r="0.9" fill="#c070e0" opacity="0.70"/><circle cx="30.5" cy="27.7" r="1.3" fill="#4a6cff" opacity="0.70"/><circle cx="113.0" cy="20.7" r="1.1" fill="#5a78f8" opacity="0.85"/><circle cx="403.2" cy="38.8" r="1.3" fill="#7090ff" opacity="0.70"/><circle cx="178.8" cy="53.2" r="1.0" fill="#4a6cff" opacity="0.30"/><circle cx="431.2" cy="16.5" r="1.5" fill="#b458d8" opacity="0.60"/><circle cx="151.6" cy="47.7" r="1.5" fill="#9a78ff" opacity="0.45"/><circle cx="203.4" cy="1.4" r="0.7" fill="#4a6cff" opacity="0.60"/><circle cx="214.8" cy="26.3" r="1.3" fill="#7a50e8" opacity="0.70"/><circle cx="450.3" cy="34.1" r="1.3" fill="#4a6cff" opacity="0.60"/><circle cx="449.2" cy="14.6" r="0.8" fill="#a860e8" opacity="0.70"/><circle cx="103.8" cy="3.4" r="0.8" fill="#5a78f8" opacity="0.70"/><circle cx="255.0" cy="47.9" r="1.0" fill="#c070e0" opacity="0.85"/><circle cx="427.4" cy="38.2" r="1.3" fill="#b458d8" opacity="0.85"/><circle cx="224.2" cy="29.7" r="0.8" fill="#5f80ff" opacity="1.00"/><circle cx="348.3" cy="31.0" r="1.0" fill="#5f80ff" opacity="0.85"/><circle cx="217.7" cy="52.3" r="1.1" fill="#9a78ff" opacity="0.42"/><circle cx="398.6" cy="33.0" r="0.8" fill="#8a5cf0" opacity="0.70"/><circle cx="166.9" cy="6.3" r="0.8" fill="#7a50e8" opacity="0.70"/><circle cx="169.9" cy="30.7" r="0.9" fill="#3f5cf0" opacity="0.60"/><circle cx="211.2" cy="53.6" r="1.0" fill="#5a78f8" opacity="0.35"/><circle cx="224.2" cy="52.1" r="0.8" fill="#b458d8" opacity="0.30"/><circle cx="156.3" cy="33.9" r="0.9" fill="#b458d8" opacity="0.60"/><circle cx="364.5" cy="32.8" r="1.0" fill="#9a78ff" opacity="0.45"/><circle cx="77.6" cy="28.4" r="0.7" fill="#5f80ff" opacity="0.45"/><circle cx="348.5" cy="51.9" r="0.8" fill="#86a0ff" opacity="0.23"/><circle cx="107.3" cy="54.6" r="0.7" fill="#3f5cf0" opacity="0.50"/><circle cx="354.2" cy="28.8" r="0.9" fill="#5a78f8" opacity="1.00"/><circle cx="439.9" cy="0.7" r="0.8" fill="#5f80ff" opacity="0.45"/><circle cx="79.9" cy="6.8" r="1.1" fill="#5a78f8" opacity="0.70"/><circle cx="342.5" cy="21.5" r="1.3" fill="#9a78ff" opacity="0.85"/><circle cx="35.7" cy="41.8" r="0.9" fill="#7090ff" opacity="0.70"/><circle cx="14.7" cy="23.9" r="1.1" fill="#5f80ff" opacity="0.70"/><circle cx="375.3" cy="30.9" r="0.9" fill="#3f5cf0" opacity="0.70"/><circle cx="261.3" cy="9.1" r="0.8" fill="#9a78ff" opacity="0.45"/><circle cx="56.7" cy="28.2" r="1.1" fill="#c070e0" opacity="0.85"/><circle cx="214.1" cy="42.0" r="1.3" fill="#c070e0" opacity="0.60"/><circle cx="92.5" cy="42.4" r="0.8" fill="#3f5cf0" opacity="0.60"/><circle cx="406.3" cy="46.8" r="1.1" fill="#7a50e8" opacity="0.85"/><circle cx="400.7" cy="12.4" r="1.3" fill="#4a6cff" opacity="0.85"/><circle cx="406.5" cy="42.3" r="0.9" fill="#7090ff" opacity="0.70"/><circle cx="21.7" cy="43.6" r="1.0" fill="#5f80ff" opacity="0.60"/><circle cx="127.1" cy="18.2" r="0.7" fill="#7090ff" opacity="0.60"/><circle cx="287.8" cy="27.9" r="1.5" fill="#86a0ff" opacity="0.60"/><circle cx="436.1" cy="44.3" r="0.7" fill="#8a5cf0" opacity="1.00"/><circle cx="386.0" cy="40.1" r="1.1" fill="#a860e8" opacity="0.60"/><circle cx="196.9" cy="37.0" r="0.7" fill="#c070e0" opacity="0.45"/><circle cx="359.6" cy="37.1" r="0.7" fill="#8a5cf0" opacity="1.00"/><circle cx="350.5" cy="55.7" r="0.9" fill="#b458d8" opacity="0.35"/><circle cx="85.6" cy="22.4" r="1.3" fill="#4a6cff" opacity="0.60"/><circle cx="25.6" cy="3.2" r="0.8" fill="#86a0ff" opacity="0.45"/><circle cx="168.4" cy="38.1" r="0.9" fill="#b458d8" opacity="0.85"/><circle cx="272.9" cy="25.1" r="0.7" fill="#7090ff" opacity="0.60"/><circle cx="48.5" cy="27.1" r="0.8" fill="#4a6cff" opacity="0.60"/><circle cx="282.3" cy="54.7" r="0.7" fill="#4a6cff" opacity="0.23"/><circle cx="424.9" cy="13.4" r="0.8" fill="#b458d8" opacity="0.70"/><circle cx="149.7" cy="38.9" r="0.9" fill="#7a50e8" opacity="0.60"/><circle cx="28.2" cy="40.7" r="1.5" fill="#5f80ff" opacity="0.70"/><circle cx="369.4" cy="6.5" r="1.0" fill="#a860e8" opacity="0.45"/><circle cx="53.6" cy="48.9" r="0.7" fill="#5a78f8" opacity="0.70"/><circle cx="454.9" cy="41.9" r="1.1" fill="#b458d8" opacity="1.00"/><circle cx="255.1" cy="17.4" r="0.8" fill="#7a50e8" opacity="0.60"/><circle cx="163.6" cy="28.6" r="1.1" fill="#5a78f8" opacity="0.70"/><circle cx="332.8" cy="7.2" r="0.7" fill="#b458d8" opacity="1.00"/><circle cx="68.1" cy="29.8" r="0.9" fill="#b458d8" opacity="0.85"/><circle cx="411.2" cy="29.0" r="0.8" fill="#5a78f8" opacity="1.00"/><circle cx="164.4" cy="16.3" r="1.0" fill="#4a6cff" opacity="0.70"/><circle cx="225.2" cy="40.9" r="0.8" fill="#3f5cf0" opacity="0.70"/><circle cx="209.3" cy="4.8" r="0.9" fill="#5f80ff" opacity="0.60"/><circle cx="101.9" cy="20.5" r="0.7" fill="#4a6cff" opacity="0.70"/><circle cx="156.5" cy="1.8" r="1.1" fill="#b458d8" opacity="0.70"/><circle cx="426.6" cy="12.8" r="0.9" fill="#b458d8" opacity="0.60"/><circle cx="228.2" cy="20.7" r="0.9" fill="#4a6cff" opacity="0.60"/><circle cx="487.7" cy="47.5" r="1.0" fill="#a860e8" opacity="0.70"/><circle cx="54.0" cy="35.9" r="1.3" fill="#3f5cf0" opacity="0.45"/><circle cx="458.2" cy="49.9" r="0.8" fill="#7a50e8" opacity="0.50"/><circle cx="39.3" cy="50.6" r="1.0" fill="#5a78f8" opacity="0.35"/><circle cx="411.9" cy="41.2" r="0.7" fill="#3f5cf0" opacity="0.60"/><circle cx="345.5" cy="35.0" r="0.8" fill="#9a78ff" opacity="1.00"/><circle cx="302.5" cy="16.5" r="0.8" fill="#5f80ff" opacity="0.60"/><circle cx="218.7" cy="43.2" r="0.9" fill="#9a78ff" opacity="0.70"/><circle cx="244.9" cy="47.6" r="0.7" fill="#8a5cf0" opacity="0.60"/><circle cx="80.9" cy="17.4" r="1.0" fill="#4a6cff" opacity="0.60"/><circle cx="37.9" cy="55.2" r="0.8" fill="#7090ff" opacity="0.30"/><circle cx="141.9" cy="13.5" r="1.3" fill="#9a78ff" opacity="0.70"/><circle cx="108.6" cy="43.5" r="1.0" fill="#4a6cff" opacity="0.45"/><circle cx="335.3" cy="25.9" r="1.1" fill="#5a78f8" opacity="0.85"/><circle cx="264.2" cy="21.7" r="1.5" fill="#3f5cf0" opacity="0.85"/><circle cx="183.9" cy="25.5" r="1.3" fill="#7a50e8" opacity="0.60"/><circle cx="31.6" cy="29.6" r="0.7" fill="#5a78f8" opacity="0.60"/><circle cx="84.6" cy="21.7" r="1.5" fill="#5a78f8" opacity="1.00"/><circle cx="273.3" cy="15.9" r="0.7" fill="#86a0ff" opacity="0.70"/><circle cx="452.6" cy="20.5" r="1.3" fill="#7a50e8" opacity="0.45"/><circle cx="144.7" cy="23.4" r="0.9" fill="#8a5cf0" opacity="0.60"/><circle cx="156.5" cy="14.5" r="0.8" fill="#7090ff" opacity="0.60"/><circle cx="444.9" cy="21.0" r="0.7" fill="#7a50e8" opacity="0.85"/><circle cx="343.1" cy="27.8" r="1.0" fill="#5a78f8" opacity="0.60"/><circle cx="19.3" cy="9.8" r="0.8" fill="#86a0ff" opacity="1.00"/><circle cx="46.3" cy="34.3" r="0.8" fill="#3f5cf0" opacity="0.70"/><circle cx="265.6" cy="7.5" r="1.0" fill="#4a6cff" opacity="0.60"/><circle cx="110.9" cy="16.9" r="0.8" fill="#5a78f8" opacity="1.00"/><circle cx="446.0" cy="37.6" r="0.9" fill="#7a50e8" opacity="0.85"/><circle cx="205.5" cy="54.3" r="1.5" fill="#8a5cf0" opacity="0.23"/><circle cx="303.0" cy="1.9" r="1.3" fill="#86a0ff" opacity="0.60"/><circle cx="107.8" cy="47.4" r="0.8" fill="#5a78f8" opacity="0.45"/><circle cx="3.1" cy="49.9" r="1.0" fill="#b458d8" opacity="0.42"/><circle cx="254.9" cy="48.3" r="0.8" fill="#b458d8" opacity="0.70"/><circle cx="297.7" cy="7.4" r="0.9" fill="#8a5cf0" opacity="0.45"/><circle cx="310.7" cy="6.8" r="0.8" fill="#86a0ff" opacity="0.70"/><circle cx="124.7" cy="41.1" r="0.7" fill="#7090ff" opacity="1.00"/><circle cx="420.9" cy="15.7" r="0.7" fill="#86a0ff" opacity="0.70"/><circle cx="88.1" cy="5.1" r="1.3" fill="#5a78f8" opacity="1.00"/><circle cx="465.1" cy="8.0" r="1.0" fill="#c070e0" opacity="0.60"/><circle cx="127.2" cy="2.6" r="0.7" fill="#3f5cf0" opacity="0.85"/><circle cx="241.3" cy="28.1" r="0.7" fill="#86a0ff" opacity="0.70"/><circle cx="178.8" cy="9.0" r="1.0" fill="#86a0ff" opacity="0.85"/><circle cx="55.0" cy="42.8" r="1.0" fill="#7090ff" opacity="1.00"/><circle cx="79.4" cy="53.0" r="1.3" fill="#3f5cf0" opacity="0.50"/><circle cx="431.9" cy="5.3" r="1.3" fill="#7a50e8" opacity="0.85"/><circle cx="291.6" cy="47.1" r="0.9" fill="#8a5cf0" opacity="0.70"/><circle cx="100.9" cy="46.5" r="1.1" fill="#5a78f8" opacity="0.60"/><circle cx="359.0" cy="9.5" r="1.3" fill="#86a0ff" opacity="0.85"/><circle cx="433.8" cy="24.5" r="1.0" fill="#8a5cf0" opacity="0.60"/><circle cx="184.8" cy="28.5" r="0.8" fill="#b458d8" opacity="0.85"/><circle cx="171.5" cy="8.3" r="0.8" fill="#5f80ff" opacity="0.60"/><circle cx="220.9" cy="30.1" r="1.0" fill="#7090ff" opacity="0.45"/><circle cx="3.4" cy="52.1" r="0.8" fill="#86a0ff" opacity="0.50"/><circle cx="32.2" cy="24.4" r="1.5" fill="#3f5cf0" opacity="1.00"/><circle cx="88.4" cy="32.1" r="1.3" fill="#4a6cff" opacity="0.85"/><circle cx="428.3" cy="54.9" r="0.8" fill="#5f80ff" opacity="0.35"/><circle cx="265.7" cy="41.1" r="0.7" fill="#9a78ff" opacity="0.45"/><circle cx="73.7" cy="11.5" r="0.9" fill="#4a6cff" opacity="0.70"/><circle cx="229.2" cy="14.0" r="0.9" fill="#5f80ff" opacity="0.70"/><circle cx="95.4" cy="49.2" r="1.0" fill="#a860e8" opacity="0.23"/><circle cx="37.3" cy="42.0" r="1.0" fill="#4a6cff" opacity="0.60"/><circle cx="79.1" cy="2.1" r="1.5" fill="#86a0ff" opacity="1.00"/><circle cx="174.0" cy="17.5" r="0.7" fill="#5a78f8" opacity="0.85"/><circle cx="343.8" cy="32.8" r="1.1" fill="#7090ff" opacity="0.70"/><circle cx="64.8" cy="22.8" r="1.5" fill="#86a0ff" opacity="0.45"/><circle cx="271.1" cy="25.8" r="1.1" fill="#5a78f8" opacity="1.00"/><circle cx="467.0" cy="4.5" r="1.0" fill="#4a6cff" opacity="0.70"/><circle cx="312.5" cy="35.4" r="1.5" fill="#a860e8" opacity="0.70"/><circle cx="197.3" cy="35.6" r="0.8" fill="#c070e0" opacity="0.45"/><circle cx="331.7" cy="1.2" r="1.0" fill="#5a78f8" opacity="1.00"/><circle cx="89.9" cy="3.8" r="0.7" fill="#3f5cf0" opacity="0.45"/><circle cx="417.5" cy="17.1" r="1.1" fill="#5f80ff" opacity="0.45"/><circle cx="28.3" cy="36.0" r="0.9" fill="#b458d8" opacity="0.70"/><circle cx="361.6" cy="34.5" r="1.3" fill="#c070e0" opacity="0.45"/><circle cx="38.6" cy="26.0" r="1.0" fill="#7090ff" opacity="0.45"/><circle cx="198.0" cy="12.8" r="0.8" fill="#b458d8" opacity="0.85"/><circle cx="174.4" cy="42.3" r="0.9" fill="#5a78f8" opacity="0.45"/><circle cx="327.9" cy="14.7" r="0.8" fill="#c070e0" opacity="1.00"/><circle cx="112.1" cy="8.5" r="1.1" fill="#5f80ff" opacity="0.70"/><circle cx="489.1" cy="13.3" r="1.0" fill="#9a78ff" opacity="0.85"/><circle cx="335.3" cy="44.2" r="1.1" fill="#8a5cf0" opacity="0.45"/><circle cx="368.7" cy="1.1" r="1.0" fill="#c070e0" opacity="0.45"/><circle cx="3.1" cy="8.5" r="0.8" fill="#4a6cff" opacity="1.00"/><circle cx="72.3" cy="29.0" r="0.8" fill="#7090ff" opacity="0.85"/><circle cx="99.9" cy="13.5" r="1.5" fill="#5a78f8" opacity="0.45"/><circle cx="261.1" cy="36.8" r="0.9" fill="#8a5cf0" opacity="0.45"/><circle cx="193.8" cy="32.0" r="0.8" fill="#b458d8" opacity="0.70"/><circle cx="344.3" cy="16.2" r="1.1" fill="#7a50e8" opacity="0.85"/><circle cx="286.9" cy="16.7" r="0.9" fill="#5a78f8" opacity="0.45"/><circle cx="29.2" cy="28.9" r="0.9" fill="#4a6cff" opacity="0.70"/><circle cx="240.6" cy="28.2" r="1.3" fill="#a860e8" opacity="0.85"/><circle cx="500.3" cy="28.7" r="1.1" fill="#7090ff" opacity="0.85"/><circle cx="102.6" cy="45.6" r="1.1" fill="#5f80ff" opacity="1.00"/><circle cx="325.4" cy="45.3" r="1.1" fill="#7a50e8" opacity="0.60"/><circle cx="156.4" cy="38.6" r="0.8" fill="#a860e8" opacity="0.45"/><circle cx="124.5" cy="44.9" r="0.8" fill="#86a0ff" opacity="1.00"/><circle cx="350.5" cy="2.4" r="0.8" fill="#7090ff" opacity="0.85"/><circle cx="349.1" cy="11.0" r="1.3" fill="#86a0ff" opacity="0.70"/><circle cx="179.4" cy="31.9" r="1.1" fill="#c070e0" opacity="0.60"/><circle cx="535.5" cy="43.5" r="1.0" fill="#8a5cf0" opacity="0.60"/><circle cx="347.7" cy="4.3" r="1.1" fill="#3f5cf0" opacity="0.70"/><circle cx="296.6" cy="55.1" r="1.5" fill="#9a78ff" opacity="0.30"/><circle cx="61.3" cy="8.7" r="1.1" fill="#7090ff" opacity="0.70"/><circle cx="265.8" cy="54.8" r="1.5" fill="#7a50e8" opacity="0.35"/><circle cx="24.6" cy="11.5" r="0.7" fill="#5f80ff" opacity="0.85"/><circle cx="215.8" cy="24.7" r="1.3" fill="#8a5cf0" opacity="0.45"/><circle cx="5.4" cy="5.6" r="1.3" fill="#86a0ff" opacity="1.00"/><circle cx="27.7" cy="25.1" r="0.8" fill="#3f5cf0" opacity="1.00"/><circle cx="455.8" cy="1.2" r="1.5" fill="#7090ff" opacity="1.00"/><circle cx="50.7" cy="22.3" r="1.1" fill="#3f5cf0" opacity="0.85"/><circle cx="57.0" cy="5.0" r="1.1" fill="#86a0ff" opacity="0.70"/><circle cx="295.2" cy="51.6" r="1.5" fill="#b458d8" opacity="0.35"/><circle cx="12.4" cy="28.1" r="1.1" fill="#7a50e8" opacity="0.70"/><circle cx="362.6" cy="52.2" r="1.3" fill="#7a50e8" opacity="0.42"/><circle cx="409.1" cy="24.9" r="1.0" fill="#9a78ff" opacity="0.70"/></svg>
<div id="lblock" class="abs"></div>
<div id="rblock" class="abs"></div>
<div id="title" class="abs">产业规模：<span class="ql">“</span>长尾效应<span class="qr">”</span>明显，广东、北京产业发展势头强劲</div>

<svg class="abs" style="left:740px;top:4px" width="60" height="28" viewBox="0 0 60 28">
<g>
<circle cx="19" cy="16" r="2.3" fill="#ffffff"/><circle cx="24" cy="11" r="2.4" fill="#f7d9c8"/><circle cx="30" cy="8.5" r="2.2" fill="#f2a98c"/><circle cx="36" cy="9" r="2.3" fill="#f5c8b0"/><circle cx="41" cy="12" r="2.2" fill="#ee8f7a"/><circle cx="45" cy="17" r="2.1" fill="#d94a5a"/>
<circle cx="23" cy="18.5" r="1.6" fill="#f3b9a0"/><circle cx="28" cy="14" r="1.9" fill="#ffffff"/><circle cx="33.5" cy="13.5" r="1.8" fill="#f4c0c8"/><circle cx="38.5" cy="16" r="1.8" fill="#ef9a9a"/><circle cx="42.5" cy="21" r="1.7" fill="#c8405a"/>
<circle cx="27" cy="20" r="1.3" fill="#ffffff"/><circle cx="31.5" cy="18.5" r="1.4" fill="#f0a0b8"/><circle cx="35.5" cy="20.5" r="1.3" fill="#f6d0d8"/><circle cx="39" cy="23" r="1.2" fill="#d86078"/>
<circle cx="30" cy="23.5" r="1" fill="#e8c8f0"/><circle cx="33.5" cy="24.5" r="0.9" fill="#ffffff"/>
</g></svg>
<div class="abs" style="left:746px;top:27.3px;height:10px;line-height:10px;font-size:10.4px;font-weight:bold;color:#fff;letter-spacing:0.5px;white-space:nowrap;">BIG DATA</div>
<div class="abs" style="left:746px;top:35px;height:9px;line-height:9px;font-size:8px;font-weight:bold;color:#f4f4ff;white-space:nowrap;">中国大数据</div>
<div class="abs" style="left:778px;top:20px;width:74px;height:28px;background:radial-gradient(ellipse at 30% 60%,rgba(44,50,186,0.95) 0%,rgba(30,38,176,0.9) 55%,rgba(28,36,174,0) 100%);filter:blur(2px);"></div>
<div class="abs" style="left:930px;top:11px;height:12px;line-height:12px;font-size:9.5px;font-weight:bold;color:rgba(255,255,255,0.75);letter-spacing:11px;white-space:nowrap;filter:blur(0.8px);">群英会</div>
<div class="abs" id="gold" style="left:854px;top:31px;height:16px;line-height:16px;font-size:12px;font-weight:bold;color:#f6dfae;white-space:nowrap;text-shadow:0 0 2px rgba(255,240,210,0.8),0 0 4px rgba(180,120,255,0.6);filter:blur(0.35px);"><span style="font-size:14px">2021</span>(第六届)中国大数据产业生态大会</div>
<div class="abs" style="left:868px;top:27px;width:22px;height:21px;background:radial-gradient(ellipse at 50% 50%,rgba(60,40,180,1) 0%,rgba(60,40,180,0.95) 45%,rgba(60,40,180,0) 100%);filter:blur(1.2px);"></div>
<div class="abs" style="left:877px;top:19px;width:26px;height:28px;border-radius:50%;background:radial-gradient(ellipse at 55% 45%,rgba(242,210,175,1) 0%,rgba(232,190,170,0.9) 38%,rgba(170,110,200,0.35) 62%,rgba(120,70,200,0) 72%);filter:blur(1.3px);"></div>
<div class="abs" style="left:1010px;top:28px;width:18px;height:20px;background:radial-gradient(ellipse,rgba(92,42,198,1) 0%,rgba(92,42,198,0.95) 50%,rgba(92,42,198,0) 100%);filter:blur(1px);"></div>
<div class="abs" style="left:1036px;top:28px;width:17px;height:20px;background:radial-gradient(ellipse,rgba(98,52,204,1) 0%,rgba(98,52,204,0.95) 50%,rgba(98,52,204,0) 100%);filter:blur(1px);"></div>
<div class="abs" style="left:962px;top:4px;width:60px;height:26px;background:radial-gradient(ellipse,rgba(150,100,240,0.55) 0%,rgba(130,80,230,0.3) 50%,rgba(110,60,220,0) 100%);filter:blur(2px);"></div>
<svg class="abs" style="left:1020px;top:0" width="60" height="50" viewBox="0 0 60 50"><polygon points="18,0 34,0 60,30 60,44" fill="rgba(150,160,245,0.35)"/><polygon points="40,0 52,0 60,10 60,22" fill="rgba(160,170,250,0.35)"/></svg>


<svg class="abs" style="left:18px;top:90px" width="645" height="110" viewBox="0 0 645 110"><rect x="1.5" y="1.7" width="640" height="105" fill="none" stroke="#5279aa" stroke-width="3" stroke-dasharray="11.6 9.4"/></svg>
<div class="abs dl" style="top:99px;width:614px">产业进一步向优势地区集聚，头部6省（直辖市）产业规模</div>
<div class="abs dl" style="top:127px;width:622px">指数占比超60%，<span class="ql">“</span>长尾效应<span class="qr">”</span>明显。广东、北京、江苏、</div>
<div class="abs dl" style="top:155.5px;width:630px">浙江、上海、山东等地产业规模与其他省份进一步拉开差距。</div>

<div class="abs pt" style="top:213px;width:616.5px"><span style="letter-spacing:0.6px">2020</span>年我国大数据产业规模越过<b><span style="letter-spacing:1.3px">1</span>万亿元</b>大关。<span class="ql">“</span>十四五<span class="qr">”</span>时期，</div>
<div class="abs pt" style="top:238px;width:616.5px">我国的大数据产业发展将进入集成创新、快速发展、深度应用、结</div>
<div class="abs pt" style="top:263.3px;width:169.6px">构优化的新阶段。</div>

<div class="abs" style="left:31px;top:312px;width:415px;height:101px;background:#5e5cb5;clip-path:polygon(0 0,401px 0,100% 15px,100% 100%,0 100%);"></div>
<div class="abs tier" style="left:44.5px;top:331.2px;width:377.5px">第一梯队：广东、北京、江苏、浙江、上</div>
<div class="abs tier" style="left:44.5px;top:355.7px;width:377.5px">海、山东持续领跑全国大数据产业规模。</div>
<div class="abs" style="left:90px;top:413px;width:463px;height:93px;background:#4f79bf;clip-path:polygon(0 0,449px 0,100% 15px,100% 100%,0 100%);"></div>
<div class="abs tier" style="left:107.5px;top:427.8px;width:419.5px">第二梯队：四川、福建、陕西、天津、湖北、</div>
<div class="abs tier" style="left:118px;top:452.3px;width:398.5px">等依托自身特色优势，不断扩大产业规模。</div>
<div class="abs" style="left:148.6px;top:506px;width:477.4px;height:74.6px;background:#7f9ad0;clip-path:polygon(0 0,466px 0,100% 14px,100% 100%,0 100%);"></div>
<div class="abs tier" style="left:158.5px;top:523.3px;width:440.4px">第三梯队：其余省（自治区、直辖市）大数据产</div>
<div class="abs tier" style="left:158.5px;top:547.8px;width:210px">业仍有较大发展空间。</div>

<div class="wm" id="wm1" style="left:447px;top:544px;">ID: ccid-2014</div>
<div class="wm" id="wm2" style="left:391px;top:272px;font-size:68px;letter-spacing:12px;word-spacing:0;transform:rotate(-47deg)">赛迪</div>

<div id="ctitle" class="abs">全国大数据产业规模指数图</div>
<div class="gl" style="left:719.5px"></div>
<div class="ax" style="left:695.0px">0.00</div>
<div class="gl" style="left:757.9px"></div>
<div class="ax" style="left:733.4px">10.00</div>
<div class="gl" style="left:796.3px"></div>
<div class="ax" style="left:771.8px">20.00</div>
<div class="gl" style="left:834.7px"></div>
<div class="ax" style="left:810.2px">30.00</div>
<div class="gl" style="left:873.1px"></div>
<div class="ax" style="left:848.6px">40.00</div>
<div class="gl" style="left:911.5px"></div>
<div class="ax" style="left:887.0px">50.00</div>
<div class="gl" style="left:949.9px"></div>
<div class="ax" style="left:925.4px">60.00</div>
<div class="gl" style="left:988.3px"></div>
<div class="ax" style="left:963.8px">70.00</div>
<div class="gl" style="left:1026.7px"></div>
<div class="ax" style="left:1002.2px">80.00</div>
<div class="pl" style="top:137.1px">广东</div>
<div class="bar red" style="top:140.8px;width:285.9px"></div>
<div class="vl" style="top:137.3px;left:1012.9px">74.46</div>
<div class="pl" style="top:150.7px">北京</div>
<div class="bar red" style="top:154.4px;width:282.9px"></div>
<div class="vl" style="top:150.9px;left:1009.9px">73.68</div>
<div class="pl" style="top:164.4px">江苏</div>
<div class="bar yel" style="top:168.1px;width:243.0px"></div>
<div class="vl" style="top:164.6px;left:970.0px">63.28</div>
<div class="pl" style="top:178.0px">浙江</div>
<div class="bar gold" style="top:181.7px;width:188.7px"></div>
<div class="vl" style="top:178.2px;left:915.7px">49.15</div>
<div class="pl" style="top:191.6px">上海</div>
<div class="bar gold" style="top:195.3px;width:179.1px"></div>
<div class="vl" style="top:191.8px;left:906.1px">46.63</div>
<div class="pl" style="top:205.3px">山东</div>
<div class="bar gold" style="top:209.0px;width:164.0px"></div>
<div class="vl" style="top:205.5px;left:891.0px">42.71</div>
<div class="pl" style="top:218.9px">四川</div>
<div class="bar org" style="top:222.6px;width:128.4px"></div>
<div class="vl" style="top:219.1px;left:855.4px">33.44</div>
<div class="pl" style="top:232.5px">福建</div>
<div class="bar gry" style="top:236.2px;width:113.4px"></div>
<div class="vl" style="top:232.7px;left:840.4px">29.54</div>
<div class="pl" style="top:246.1px">陕西</div>
<div class="bar gry" style="top:249.8px;width:101.8px"></div>
<div class="vl" style="top:246.3px;left:828.8px">26.50</div>
<div class="pl" style="top:259.8px">天津</div>
<div class="bar gry" style="top:263.5px;width:87.0px"></div>
<div class="vl" style="top:260.0px;left:814.0px">22.65</div>
<div class="pl" style="top:273.4px">湖北</div>
<div class="bar gry" style="top:277.1px;width:78.2px"></div>
<div class="vl" style="top:273.6px;left:805.2px">20.37</div>
<div class="pl" style="top:287.0px">重庆</div>
<div class="bar blu" style="top:290.7px;width:74.7px"></div>
<div class="vl" style="top:287.2px;left:801.7px">19.45</div>
<div class="pl" style="top:300.7px">辽宁</div>
<div class="bar blu" style="top:304.4px;width:71.3px"></div>
<div class="vl" style="top:300.9px;left:798.3px">18.56</div>
<div class="pl" style="top:314.3px">湖南</div>
<div class="bar pur" style="top:318.0px;width:33.6px"></div>
<div class="vl" style="top:314.5px;left:760.6px">8.74</div>
<div class="pl" style="top:327.9px">安徽</div>
<div class="bar pur" style="top:331.6px;width:20.9px"></div>
<div class="vl" style="top:328.1px;left:747.9px">5.43</div>
<div class="pl" style="top:341.6px">吉林</div>
<div class="bar pur" style="top:345.2px;width:20.8px"></div>
<div class="vl" style="top:341.8px;left:747.8px">5.42</div>
<div class="pl" style="top:355.2px">广西</div>
<div class="bar lgr" style="top:358.9px;width:18.6px"></div>
<div class="vl" style="top:355.4px;left:745.6px">4.84</div>
<div class="pl" style="top:368.8px">河北</div>
<div class="bar lgr" style="top:372.5px;width:14.1px"></div>
<div class="vl" style="top:369.0px;left:741.1px">3.67</div>
<div class="pl" style="top:382.4px">贵州</div>
<div class="bar lgr" style="top:386.1px;width:11.6px"></div>
<div class="vl" style="top:382.6px;left:738.6px">3.01</div>
<div class="pl" style="top:396.1px">海南</div>
<div class="bar lgr" style="top:399.8px;width:10.5px"></div>
<div class="vl" style="top:396.3px;left:737.5px">2.74</div>
<div class="pl" style="top:409.7px">江西</div>
<div class="bar lgr" style="top:413.4px;width:5.5px"></div>
<div class="vl" style="top:409.9px;left:732.5px">1.43</div>
<div class="pl" style="top:423.3px">河南</div>
<div class="bar dk" style="top:427.0px;width:4.0px"></div>
<div class="vl" style="top:423.5px;left:731.0px">1.05</div>
<div class="pl" style="top:437.0px">云南</div>
<div class="bar dk" style="top:440.7px;width:3.7px"></div>
<div class="vl" style="top:437.2px;left:730.7px">0.97</div>
<div class="pl" style="top:450.6px">甘肃</div>
<div class="bar dk" style="top:454.3px;width:2.3px"></div>
<div class="vl" style="top:450.8px;left:729.3px">0.61</div>
<div class="pl" style="top:464.2px">山西</div>
<div class="bar dk" style="top:467.9px;width:1.9px"></div>
<div class="vl" style="top:464.4px;left:728.9px">0.50</div>
<div class="pl" style="top:477.9px">新疆</div>
<div class="bar dk" style="top:481.6px;width:1.9px"></div>
<div class="vl" style="top:478.1px;left:728.9px">0.50</div>
<div class="pl" style="top:491.5px">黑龙江</div>
<div class="bar dk" style="top:495.2px;width:1.3px"></div>
<div class="vl" style="top:491.7px;left:728.3px">0.34</div>
<div class="pl" style="top:505.1px">宁夏</div>
<div class="bar dk" style="top:508.8px;width:1.2px"></div>
<div class="vl" style="top:505.3px;left:728.2px">0.30</div>
<div class="pl" style="top:518.7px">内蒙古</div>
<div class="vl" style="top:518.9px;left:727.4px">0.11</div>
<div class="pl" style="top:532.4px">青海</div>
<div class="vl" style="top:532.6px;left:727.2px">0.04</div>
<div class="pl" style="top:546.0px">西藏</div>
<div class="vl" style="top:546.2px;left:727.0px">0.00</div>

<div id="redge" class="abs"></div>
<div id="botbar" class="abs"></div>
</body>
</html>
